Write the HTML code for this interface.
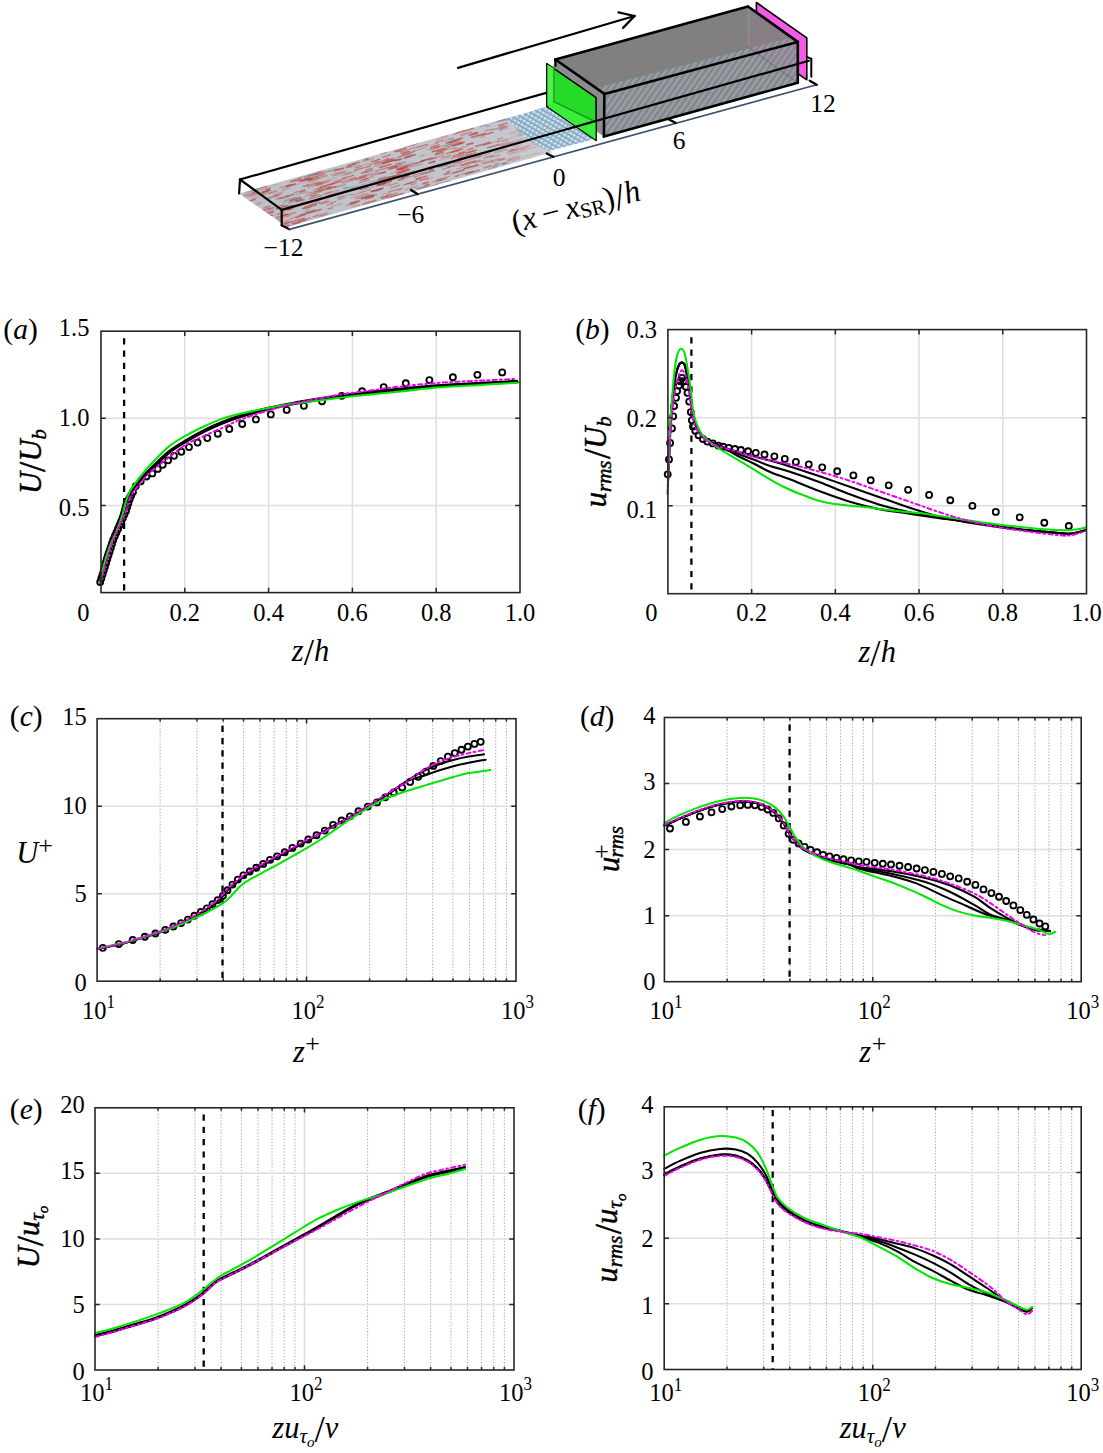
<!DOCTYPE html>
<html><head><meta charset="utf-8"><style>
html,body{margin:0;padding:0;background:#fff;}
svg{display:block;}
text{font-family:"Liberation Serif",serif;fill:#000;}
</style></head><body>
<svg width="1103" height="1453" viewBox="0 0 1103 1453">
<rect width="1103" height="1453" fill="#fff"/>
<defs>
<clipPath id="flc"><polygon points="239.0,193.6 520.0,114.4 552.0,152.3 287.0,227.1" fill="#000" /></clipPath>
<linearGradient id="flg" x1="0" y1="0" x2="1" y2="0"><stop offset="0" stop-color="#bcc1c8"/><stop offset="0.8" stop-color="#c3c7cd"/><stop offset="1" stop-color="#cacdd1"/></linearGradient>
<pattern id="hatchB" patternUnits="userSpaceOnUse" width="5" height="5" patternTransform="rotate(35)"><rect width="5" height="5" fill="#b4cfe0"/><rect width="2" height="5" fill="#eef5fa"/><rect x="2" width="1.2" height="5" fill="#7fa6c0"/></pattern>
<pattern id="hatchG" patternUnits="userSpaceOnUse" width="5" height="5" patternTransform="rotate(35)"><rect width="5" height="5" fill="#8a8e95"/><rect width="1.6" height="5" fill="#9da1a8"/><rect x="3" width="1" height="5" fill="#7c8087"/></pattern>
<filter id="blr" x="-5%" y="-5%" width="110%" height="110%"><feGaussianBlur stdDeviation="0.5"/></filter>
<pattern id="hatchX" patternUnits="userSpaceOnUse" width="4.2" height="4.2" patternTransform="rotate(30)"><rect width="4.2" height="4.2" fill="#98b9cf"/><circle cx="2.1" cy="2.1" r="1.1" fill="#e8f1f7"/><rect width="4.2" height="0.8" fill="#6f96b2"/></pattern>
</defs>
<polygon points="239.0,193.6 520.0,114.4 552.0,152.3 287.0,227.1" fill="url(#flg)" />
<g clip-path="url(#flc)" filter="url(#blr)"><line x1="330.4" y1="174.9" x2="340.6" y2="172.0" stroke="#cc7068" stroke-width="1.5" stroke-opacity="0.29" stroke-linecap="round"/><line x1="499.1" y1="130.3" x2="503.1" y2="129.2" stroke="#b04444" stroke-width="1.3" stroke-opacity="0.29" stroke-linecap="round"/><line x1="471.6" y1="133.8" x2="477.0" y2="132.3" stroke="#b84240" stroke-width="1.3" stroke-opacity="0.58" stroke-linecap="round"/><line x1="510.4" y1="119.3" x2="522.8" y2="115.8" stroke="#b04444" stroke-width="1.5" stroke-opacity="0.19" stroke-linecap="round"/><line x1="421.2" y1="174.3" x2="425.4" y2="173.1" stroke="#b04444" stroke-width="1.5" stroke-opacity="0.56" stroke-linecap="round"/><line x1="252.5" y1="192.6" x2="257.7" y2="191.1" stroke="#a03636" stroke-width="1.4" stroke-opacity="0.62" stroke-linecap="round"/><line x1="509.6" y1="134.3" x2="515.3" y2="132.7" stroke="#b04444" stroke-width="1.2" stroke-opacity="0.16" stroke-linecap="round"/><line x1="387.6" y1="167.8" x2="395.5" y2="165.6" stroke="#b84240" stroke-width="1.3" stroke-opacity="0.58" stroke-linecap="round"/><line x1="453.1" y1="140.4" x2="461.5" y2="138.0" stroke="#b8504a" stroke-width="1.5" stroke-opacity="0.27" stroke-linecap="round"/><line x1="492.1" y1="160.7" x2="498.9" y2="158.8" stroke="#a03636" stroke-width="1.3" stroke-opacity="0.31" stroke-linecap="round"/><line x1="512.2" y1="161.0" x2="520.4" y2="158.6" stroke="#b84240" stroke-width="1.2" stroke-opacity="0.27" stroke-linecap="round"/><line x1="426.2" y1="172.8" x2="434.1" y2="170.6" stroke="#b8504a" stroke-width="1.9" stroke-opacity="0.64" stroke-linecap="round"/><line x1="360.1" y1="188.2" x2="368.5" y2="185.8" stroke="#c45a55" stroke-width="1.1" stroke-opacity="0.37" stroke-linecap="round"/><line x1="381.9" y1="194.3" x2="385.7" y2="193.2" stroke="#cc7068" stroke-width="1.0" stroke-opacity="0.50" stroke-linecap="round"/><line x1="378.6" y1="180.1" x2="389.4" y2="177.1" stroke="#b8504a" stroke-width="1.9" stroke-opacity="0.79" stroke-linecap="round"/><line x1="282.6" y1="189.6" x2="288.2" y2="188.0" stroke="#a03636" stroke-width="1.0" stroke-opacity="0.38" stroke-linecap="round"/><line x1="318.3" y1="178.1" x2="327.2" y2="175.6" stroke="#c45a55" stroke-width="1.6" stroke-opacity="0.59" stroke-linecap="round"/><line x1="405.7" y1="175.6" x2="416.1" y2="172.7" stroke="#b8504a" stroke-width="1.3" stroke-opacity="0.28" stroke-linecap="round"/><line x1="349.6" y1="167.3" x2="359.5" y2="164.5" stroke="#b84240" stroke-width="1.3" stroke-opacity="0.28" stroke-linecap="round"/><line x1="290.1" y1="207.4" x2="294.3" y2="206.3" stroke="#cc7068" stroke-width="1.2" stroke-opacity="0.56" stroke-linecap="round"/><line x1="278.6" y1="223.5" x2="288.3" y2="220.8" stroke="#c45a55" stroke-width="1.5" stroke-opacity="0.33" stroke-linecap="round"/><line x1="371.4" y1="161.7" x2="379.7" y2="159.3" stroke="#a03636" stroke-width="0.9" stroke-opacity="0.79" stroke-linecap="round"/><line x1="276.3" y1="199.2" x2="282.3" y2="197.5" stroke="#b04444" stroke-width="1.0" stroke-opacity="0.71" stroke-linecap="round"/><line x1="517.7" y1="132.0" x2="528.3" y2="129.0" stroke="#cc7068" stroke-width="1.6" stroke-opacity="0.27" stroke-linecap="round"/><line x1="295.8" y1="217.3" x2="304.5" y2="214.9" stroke="#c45a55" stroke-width="1.4" stroke-opacity="0.75" stroke-linecap="round"/><line x1="467.3" y1="144.7" x2="472.8" y2="143.2" stroke="#b04444" stroke-width="1.8" stroke-opacity="0.70" stroke-linecap="round"/><line x1="451.6" y1="144.3" x2="460.3" y2="141.9" stroke="#b84240" stroke-width="1.7" stroke-opacity="0.45" stroke-linecap="round"/><line x1="374.4" y1="164.5" x2="384.0" y2="161.8" stroke="#b8504a" stroke-width="1.9" stroke-opacity="0.44" stroke-linecap="round"/><line x1="345.1" y1="174.0" x2="350.6" y2="172.5" stroke="#b04444" stroke-width="2.0" stroke-opacity="0.36" stroke-linecap="round"/><line x1="404.8" y1="146.9" x2="417.8" y2="143.3" stroke="#b8504a" stroke-width="1.6" stroke-opacity="0.44" stroke-linecap="round"/><line x1="524.7" y1="149.8" x2="535.9" y2="146.6" stroke="#b04444" stroke-width="1.6" stroke-opacity="0.14" stroke-linecap="round"/><line x1="299.1" y1="221.1" x2="310.1" y2="218.0" stroke="#b8504a" stroke-width="1.7" stroke-opacity="0.50" stroke-linecap="round"/><line x1="285.8" y1="186.4" x2="290.5" y2="185.1" stroke="#b8504a" stroke-width="1.8" stroke-opacity="0.75" stroke-linecap="round"/><line x1="539.0" y1="139.9" x2="545.9" y2="138.0" stroke="#5f7da3" stroke-width="1.8" stroke-opacity="0.04" stroke-linecap="round"/><line x1="442.2" y1="141.1" x2="453.4" y2="138.0" stroke="#b04444" stroke-width="1.1" stroke-opacity="0.33" stroke-linecap="round"/><line x1="316.5" y1="185.5" x2="322.1" y2="183.9" stroke="#c45a55" stroke-width="1.8" stroke-opacity="0.57" stroke-linecap="round"/><line x1="282.5" y1="216.1" x2="295.4" y2="212.5" stroke="#cc7068" stroke-width="1.9" stroke-opacity="0.61" stroke-linecap="round"/><line x1="397.9" y1="173.8" x2="406.7" y2="171.3" stroke="#a03636" stroke-width="1.5" stroke-opacity="0.26" stroke-linecap="round"/><line x1="458.4" y1="138.8" x2="462.9" y2="137.5" stroke="#b84240" stroke-width="1.2" stroke-opacity="0.59" stroke-linecap="round"/><line x1="403.7" y1="173.3" x2="415.3" y2="170.0" stroke="#5f7da3" stroke-width="1.0" stroke-opacity="0.25" stroke-linecap="round"/><line x1="248.3" y1="195.6" x2="256.3" y2="193.3" stroke="#b84240" stroke-width="1.5" stroke-opacity="0.27" stroke-linecap="round"/><line x1="398.1" y1="172.8" x2="408.7" y2="169.8" stroke="#cc7068" stroke-width="1.4" stroke-opacity="0.50" stroke-linecap="round"/><line x1="325.6" y1="193.8" x2="338.3" y2="190.2" stroke="#cc7068" stroke-width="1.0" stroke-opacity="0.76" stroke-linecap="round"/><line x1="377.4" y1="174.2" x2="384.7" y2="172.1" stroke="#b8504a" stroke-width="0.9" stroke-opacity="0.42" stroke-linecap="round"/><line x1="456.7" y1="169.1" x2="469.6" y2="165.4" stroke="#b8504a" stroke-width="1.2" stroke-opacity="0.33" stroke-linecap="round"/><line x1="309.8" y1="180.1" x2="318.0" y2="177.8" stroke="#b84240" stroke-width="1.4" stroke-opacity="0.66" stroke-linecap="round"/><line x1="549.6" y1="145.1" x2="554.4" y2="143.8" stroke="#cc7068" stroke-width="1.3" stroke-opacity="0.00" stroke-linecap="round"/><line x1="337.1" y1="170.3" x2="344.1" y2="168.3" stroke="#a03636" stroke-width="0.8" stroke-opacity="0.44" stroke-linecap="round"/><line x1="353.9" y1="190.5" x2="362.5" y2="188.1" stroke="#b04444" stroke-width="0.9" stroke-opacity="0.29" stroke-linecap="round"/><line x1="308.9" y1="175.7" x2="320.5" y2="172.5" stroke="#b04444" stroke-width="1.8" stroke-opacity="0.40" stroke-linecap="round"/><line x1="465.9" y1="174.1" x2="473.3" y2="172.0" stroke="#cc7068" stroke-width="1.6" stroke-opacity="0.55" stroke-linecap="round"/><line x1="259.9" y1="190.4" x2="270.5" y2="187.4" stroke="#b84240" stroke-width="0.8" stroke-opacity="0.48" stroke-linecap="round"/><line x1="268.8" y1="197.4" x2="278.5" y2="194.7" stroke="#c45a55" stroke-width="1.3" stroke-opacity="0.37" stroke-linecap="round"/><line x1="352.9" y1="187.5" x2="366.1" y2="183.8" stroke="#5f7da3" stroke-width="1.7" stroke-opacity="0.32" stroke-linecap="round"/><line x1="541.1" y1="154.0" x2="547.0" y2="152.3" stroke="#c45a55" stroke-width="1.4" stroke-opacity="0.02" stroke-linecap="round"/><line x1="310.3" y1="194.4" x2="320.7" y2="191.5" stroke="#b84240" stroke-width="0.8" stroke-opacity="0.40" stroke-linecap="round"/><line x1="260.0" y1="211.5" x2="273.7" y2="207.6" stroke="#b04444" stroke-width="0.9" stroke-opacity="0.53" stroke-linecap="round"/><line x1="483.2" y1="145.1" x2="491.6" y2="142.7" stroke="#a03636" stroke-width="1.2" stroke-opacity="0.58" stroke-linecap="round"/><line x1="303.2" y1="186.3" x2="308.4" y2="184.8" stroke="#b8504a" stroke-width="1.3" stroke-opacity="0.74" stroke-linecap="round"/><line x1="332.8" y1="169.7" x2="337.2" y2="168.5" stroke="#b8504a" stroke-width="1.3" stroke-opacity="0.29" stroke-linecap="round"/><line x1="277.6" y1="214.0" x2="284.8" y2="212.0" stroke="#c45a55" stroke-width="1.6" stroke-opacity="0.53" stroke-linecap="round"/><line x1="253.1" y1="198.3" x2="259.1" y2="196.6" stroke="#c45a55" stroke-width="2.0" stroke-opacity="0.25" stroke-linecap="round"/><line x1="397.8" y1="160.3" x2="411.4" y2="156.5" stroke="#c45a55" stroke-width="1.2" stroke-opacity="0.42" stroke-linecap="round"/><line x1="268.3" y1="198.5" x2="278.5" y2="195.6" stroke="#b84240" stroke-width="1.8" stroke-opacity="0.39" stroke-linecap="round"/><line x1="299.1" y1="204.2" x2="306.5" y2="202.2" stroke="#b8504a" stroke-width="1.5" stroke-opacity="0.41" stroke-linecap="round"/><line x1="415.5" y1="179.1" x2="425.8" y2="176.2" stroke="#cc7068" stroke-width="1.2" stroke-opacity="0.64" stroke-linecap="round"/><line x1="517.4" y1="122.1" x2="528.4" y2="119.0" stroke="#b84240" stroke-width="1.7" stroke-opacity="0.22" stroke-linecap="round"/><line x1="396.5" y1="169.4" x2="407.2" y2="166.3" stroke="#cc7068" stroke-width="1.5" stroke-opacity="0.53" stroke-linecap="round"/><line x1="462.8" y1="131.3" x2="473.3" y2="128.3" stroke="#b8504a" stroke-width="1.6" stroke-opacity="0.69" stroke-linecap="round"/><line x1="298.5" y1="178.3" x2="302.9" y2="177.0" stroke="#b84240" stroke-width="1.3" stroke-opacity="0.45" stroke-linecap="round"/><line x1="247.2" y1="192.2" x2="256.1" y2="189.7" stroke="#5f7da3" stroke-width="1.8" stroke-opacity="0.31" stroke-linecap="round"/><line x1="466.4" y1="153.1" x2="475.3" y2="150.6" stroke="#b84240" stroke-width="1.4" stroke-opacity="0.61" stroke-linecap="round"/><line x1="499.1" y1="160.0" x2="504.7" y2="158.5" stroke="#b04444" stroke-width="2.0" stroke-opacity="0.41" stroke-linecap="round"/><line x1="389.0" y1="169.3" x2="397.3" y2="167.0" stroke="#b84240" stroke-width="1.6" stroke-opacity="0.63" stroke-linecap="round"/><line x1="260.6" y1="194.5" x2="266.4" y2="192.8" stroke="#c45a55" stroke-width="1.0" stroke-opacity="0.66" stroke-linecap="round"/><line x1="390.4" y1="173.7" x2="404.1" y2="169.9" stroke="#b04444" stroke-width="1.1" stroke-opacity="0.30" stroke-linecap="round"/><line x1="399.1" y1="170.3" x2="407.2" y2="168.0" stroke="#cc7068" stroke-width="2.0" stroke-opacity="0.32" stroke-linecap="round"/><line x1="497.7" y1="121.5" x2="505.8" y2="119.2" stroke="#a03636" stroke-width="1.3" stroke-opacity="0.44" stroke-linecap="round"/><line x1="533.3" y1="154.4" x2="537.1" y2="153.3" stroke="#b8504a" stroke-width="1.9" stroke-opacity="0.05" stroke-linecap="round"/><line x1="306.4" y1="213.1" x2="315.0" y2="210.7" stroke="#b8504a" stroke-width="1.4" stroke-opacity="0.74" stroke-linecap="round"/><line x1="497.7" y1="139.2" x2="502.4" y2="137.8" stroke="#b8504a" stroke-width="1.2" stroke-opacity="0.49" stroke-linecap="round"/><line x1="287.3" y1="196.2" x2="293.8" y2="194.3" stroke="#b84240" stroke-width="1.2" stroke-opacity="0.71" stroke-linecap="round"/><line x1="387.0" y1="196.0" x2="392.2" y2="194.6" stroke="#b8504a" stroke-width="1.2" stroke-opacity="0.26" stroke-linecap="round"/><line x1="388.1" y1="198.5" x2="397.6" y2="195.8" stroke="#a03636" stroke-width="1.8" stroke-opacity="0.45" stroke-linecap="round"/><line x1="313.7" y1="174.9" x2="324.0" y2="172.0" stroke="#b04444" stroke-width="1.1" stroke-opacity="0.60" stroke-linecap="round"/><line x1="385.1" y1="161.3" x2="392.3" y2="159.3" stroke="#b84240" stroke-width="1.6" stroke-opacity="0.78" stroke-linecap="round"/><line x1="532.8" y1="155.0" x2="541.9" y2="152.4" stroke="#b84240" stroke-width="1.3" stroke-opacity="0.10" stroke-linecap="round"/><line x1="412.3" y1="151.3" x2="424.8" y2="147.7" stroke="#cc7068" stroke-width="1.4" stroke-opacity="0.52" stroke-linecap="round"/><line x1="342.7" y1="178.4" x2="353.8" y2="175.2" stroke="#c45a55" stroke-width="1.1" stroke-opacity="0.79" stroke-linecap="round"/><line x1="398.8" y1="180.0" x2="403.2" y2="178.8" stroke="#b84240" stroke-width="1.9" stroke-opacity="0.60" stroke-linecap="round"/><line x1="382.6" y1="163.5" x2="395.5" y2="159.8" stroke="#a03636" stroke-width="1.5" stroke-opacity="0.80" stroke-linecap="round"/><line x1="308.9" y1="182.1" x2="318.1" y2="179.5" stroke="#c45a55" stroke-width="1.5" stroke-opacity="0.43" stroke-linecap="round"/><line x1="516.8" y1="150.5" x2="524.4" y2="148.4" stroke="#cc7068" stroke-width="1.1" stroke-opacity="0.18" stroke-linecap="round"/><line x1="467.3" y1="152.6" x2="476.6" y2="150.0" stroke="#b8504a" stroke-width="1.6" stroke-opacity="0.45" stroke-linecap="round"/><line x1="485.9" y1="134.1" x2="491.9" y2="132.4" stroke="#a03636" stroke-width="1.3" stroke-opacity="0.30" stroke-linecap="round"/><line x1="356.9" y1="198.6" x2="370.6" y2="194.8" stroke="#a03636" stroke-width="1.9" stroke-opacity="0.32" stroke-linecap="round"/><line x1="392.4" y1="178.0" x2="395.4" y2="177.1" stroke="#cc7068" stroke-width="2.0" stroke-opacity="0.47" stroke-linecap="round"/><line x1="307.2" y1="179.5" x2="311.9" y2="178.2" stroke="#b8504a" stroke-width="1.8" stroke-opacity="0.54" stroke-linecap="round"/><line x1="468.5" y1="168.7" x2="481.3" y2="165.1" stroke="#5f7da3" stroke-width="1.0" stroke-opacity="0.24" stroke-linecap="round"/><line x1="394.8" y1="151.4" x2="405.7" y2="148.4" stroke="#b8504a" stroke-width="1.6" stroke-opacity="0.78" stroke-linecap="round"/><line x1="434.7" y1="143.7" x2="438.5" y2="142.6" stroke="#cc7068" stroke-width="1.1" stroke-opacity="0.54" stroke-linecap="round"/><line x1="455.8" y1="132.5" x2="464.7" y2="130.0" stroke="#c45a55" stroke-width="1.6" stroke-opacity="0.80" stroke-linecap="round"/><line x1="503.5" y1="141.4" x2="509.1" y2="139.8" stroke="#a03636" stroke-width="1.2" stroke-opacity="0.21" stroke-linecap="round"/><line x1="260.6" y1="210.9" x2="271.0" y2="208.0" stroke="#c45a55" stroke-width="1.3" stroke-opacity="0.48" stroke-linecap="round"/><line x1="359.0" y1="182.9" x2="369.6" y2="179.9" stroke="#c45a55" stroke-width="1.0" stroke-opacity="0.65" stroke-linecap="round"/><line x1="490.8" y1="157.3" x2="499.4" y2="154.9" stroke="#b04444" stroke-width="1.8" stroke-opacity="0.26" stroke-linecap="round"/><line x1="307.3" y1="184.8" x2="318.6" y2="181.5" stroke="#cc7068" stroke-width="1.0" stroke-opacity="0.41" stroke-linecap="round"/><line x1="314.0" y1="192.1" x2="324.3" y2="189.2" stroke="#b04444" stroke-width="0.9" stroke-opacity="0.77" stroke-linecap="round"/><line x1="265.5" y1="214.1" x2="273.1" y2="212.0" stroke="#b04444" stroke-width="1.9" stroke-opacity="0.64" stroke-linecap="round"/><line x1="515.0" y1="150.2" x2="529.0" y2="146.3" stroke="#c45a55" stroke-width="1.6" stroke-opacity="0.30" stroke-linecap="round"/><line x1="401.6" y1="169.7" x2="408.0" y2="167.9" stroke="#c45a55" stroke-width="1.3" stroke-opacity="0.65" stroke-linecap="round"/><line x1="266.4" y1="189.6" x2="270.2" y2="188.5" stroke="#b84240" stroke-width="1.7" stroke-opacity="0.48" stroke-linecap="round"/><line x1="374.2" y1="191.6" x2="380.6" y2="189.8" stroke="#5f7da3" stroke-width="1.4" stroke-opacity="0.55" stroke-linecap="round"/><line x1="378.9" y1="197.4" x2="384.0" y2="195.9" stroke="#5f7da3" stroke-width="1.3" stroke-opacity="0.36" stroke-linecap="round"/><line x1="496.2" y1="157.1" x2="499.7" y2="156.1" stroke="#b84240" stroke-width="0.9" stroke-opacity="0.17" stroke-linecap="round"/><line x1="290.0" y1="182.2" x2="299.7" y2="179.4" stroke="#c45a55" stroke-width="1.5" stroke-opacity="0.45" stroke-linecap="round"/><line x1="338.4" y1="199.2" x2="344.9" y2="197.4" stroke="#b84240" stroke-width="1.5" stroke-opacity="0.40" stroke-linecap="round"/><line x1="502.6" y1="163.8" x2="506.3" y2="162.7" stroke="#b84240" stroke-width="1.9" stroke-opacity="0.40" stroke-linecap="round"/><line x1="519.3" y1="132.7" x2="525.1" y2="131.1" stroke="#a03636" stroke-width="1.4" stroke-opacity="0.17" stroke-linecap="round"/><line x1="276.4" y1="226.8" x2="282.7" y2="225.0" stroke="#b04444" stroke-width="1.2" stroke-opacity="0.63" stroke-linecap="round"/><line x1="338.7" y1="182.5" x2="350.3" y2="179.2" stroke="#b04444" stroke-width="1.0" stroke-opacity="0.29" stroke-linecap="round"/><line x1="376.6" y1="185.3" x2="384.9" y2="183.0" stroke="#b04444" stroke-width="1.9" stroke-opacity="0.55" stroke-linecap="round"/><line x1="523.5" y1="125.8" x2="527.4" y2="124.7" stroke="#a03636" stroke-width="2.0" stroke-opacity="0.09" stroke-linecap="round"/><line x1="287.0" y1="186.3" x2="295.1" y2="184.0" stroke="#b04444" stroke-width="1.8" stroke-opacity="0.74" stroke-linecap="round"/><line x1="425.5" y1="146.7" x2="437.7" y2="143.3" stroke="#cc7068" stroke-width="1.1" stroke-opacity="0.41" stroke-linecap="round"/><line x1="325.4" y1="189.9" x2="330.5" y2="188.5" stroke="#c45a55" stroke-width="1.5" stroke-opacity="0.38" stroke-linecap="round"/><line x1="342.2" y1="183.1" x2="356.1" y2="179.2" stroke="#b04444" stroke-width="0.9" stroke-opacity="0.53" stroke-linecap="round"/><line x1="365.0" y1="159.8" x2="368.0" y2="159.0" stroke="#b04444" stroke-width="1.9" stroke-opacity="0.74" stroke-linecap="round"/><line x1="256.6" y1="202.4" x2="260.9" y2="201.2" stroke="#cc7068" stroke-width="0.9" stroke-opacity="0.35" stroke-linecap="round"/><line x1="385.1" y1="160.8" x2="394.7" y2="158.0" stroke="#b8504a" stroke-width="0.9" stroke-opacity="0.68" stroke-linecap="round"/><line x1="428.6" y1="169.3" x2="434.0" y2="167.8" stroke="#5f7da3" stroke-width="2.0" stroke-opacity="0.36" stroke-linecap="round"/><line x1="275.8" y1="217.7" x2="288.8" y2="214.0" stroke="#c45a55" stroke-width="1.2" stroke-opacity="0.70" stroke-linecap="round"/><line x1="411.3" y1="148.7" x2="414.6" y2="147.7" stroke="#a03636" stroke-width="0.9" stroke-opacity="0.52" stroke-linecap="round"/><line x1="368.6" y1="182.9" x2="378.7" y2="180.1" stroke="#b04444" stroke-width="1.1" stroke-opacity="0.30" stroke-linecap="round"/><line x1="541.7" y1="139.6" x2="549.3" y2="137.5" stroke="#b8504a" stroke-width="1.2" stroke-opacity="0.01" stroke-linecap="round"/><line x1="388.7" y1="192.0" x2="402.7" y2="188.1" stroke="#b04444" stroke-width="1.3" stroke-opacity="0.45" stroke-linecap="round"/><line x1="518.1" y1="135.3" x2="522.8" y2="134.0" stroke="#b84240" stroke-width="1.9" stroke-opacity="0.11" stroke-linecap="round"/><line x1="369.8" y1="164.4" x2="372.9" y2="163.5" stroke="#b8504a" stroke-width="1.3" stroke-opacity="0.55" stroke-linecap="round"/><line x1="435.8" y1="181.7" x2="447.0" y2="178.5" stroke="#c45a55" stroke-width="1.4" stroke-opacity="0.34" stroke-linecap="round"/><line x1="498.8" y1="125.4" x2="507.2" y2="123.1" stroke="#b04444" stroke-width="1.8" stroke-opacity="0.43" stroke-linecap="round"/><line x1="285.4" y1="223.4" x2="291.8" y2="221.6" stroke="#b8504a" stroke-width="1.9" stroke-opacity="0.58" stroke-linecap="round"/><line x1="444.7" y1="174.4" x2="449.4" y2="173.0" stroke="#b04444" stroke-width="1.5" stroke-opacity="0.68" stroke-linecap="round"/><line x1="308.8" y1="196.2" x2="318.0" y2="193.6" stroke="#cc7068" stroke-width="1.2" stroke-opacity="0.27" stroke-linecap="round"/><line x1="318.0" y1="217.0" x2="330.0" y2="213.6" stroke="#cc7068" stroke-width="1.6" stroke-opacity="0.36" stroke-linecap="round"/><line x1="435.6" y1="153.4" x2="442.9" y2="151.3" stroke="#b8504a" stroke-width="1.6" stroke-opacity="0.50" stroke-linecap="round"/><line x1="330.4" y1="179.5" x2="337.7" y2="177.5" stroke="#cc7068" stroke-width="0.8" stroke-opacity="0.45" stroke-linecap="round"/><line x1="429.2" y1="163.0" x2="434.8" y2="161.4" stroke="#a03636" stroke-width="1.8" stroke-opacity="0.67" stroke-linecap="round"/><line x1="348.3" y1="165.9" x2="355.3" y2="164.0" stroke="#a03636" stroke-width="1.6" stroke-opacity="0.45" stroke-linecap="round"/><line x1="249.4" y1="196.8" x2="262.5" y2="193.1" stroke="#b8504a" stroke-width="0.9" stroke-opacity="0.42" stroke-linecap="round"/><line x1="391.6" y1="168.3" x2="405.1" y2="164.5" stroke="#b84240" stroke-width="1.7" stroke-opacity="0.32" stroke-linecap="round"/><line x1="471.4" y1="137.2" x2="485.2" y2="133.3" stroke="#b04444" stroke-width="1.7" stroke-opacity="0.51" stroke-linecap="round"/><line x1="332.1" y1="206.5" x2="341.8" y2="203.8" stroke="#c45a55" stroke-width="1.1" stroke-opacity="0.39" stroke-linecap="round"/><line x1="469.3" y1="135.4" x2="477.8" y2="133.0" stroke="#b04444" stroke-width="1.5" stroke-opacity="0.76" stroke-linecap="round"/><line x1="315.9" y1="189.4" x2="321.1" y2="187.9" stroke="#b8504a" stroke-width="1.6" stroke-opacity="0.47" stroke-linecap="round"/><line x1="493.0" y1="129.9" x2="504.6" y2="126.6" stroke="#5f7da3" stroke-width="1.8" stroke-opacity="0.17" stroke-linecap="round"/><line x1="525.8" y1="134.0" x2="534.5" y2="131.6" stroke="#b84240" stroke-width="1.4" stroke-opacity="0.16" stroke-linecap="round"/><line x1="507.6" y1="152.5" x2="514.7" y2="150.5" stroke="#c45a55" stroke-width="1.2" stroke-opacity="0.23" stroke-linecap="round"/><line x1="468.3" y1="149.7" x2="473.2" y2="148.3" stroke="#b84240" stroke-width="1.4" stroke-opacity="0.66" stroke-linecap="round"/><line x1="363.2" y1="204.0" x2="375.8" y2="200.4" stroke="#c45a55" stroke-width="1.7" stroke-opacity="0.76" stroke-linecap="round"/><line x1="307.8" y1="187.9" x2="317.7" y2="185.1" stroke="#c45a55" stroke-width="1.0" stroke-opacity="0.48" stroke-linecap="round"/><line x1="325.7" y1="199.9" x2="328.9" y2="198.9" stroke="#c45a55" stroke-width="1.4" stroke-opacity="0.25" stroke-linecap="round"/><line x1="401.7" y1="167.1" x2="408.1" y2="165.4" stroke="#c45a55" stroke-width="1.4" stroke-opacity="0.32" stroke-linecap="round"/><line x1="312.3" y1="217.0" x2="318.0" y2="215.4" stroke="#b84240" stroke-width="1.0" stroke-opacity="0.33" stroke-linecap="round"/><line x1="432.5" y1="151.7" x2="444.4" y2="148.4" stroke="#b84240" stroke-width="1.5" stroke-opacity="0.78" stroke-linecap="round"/><line x1="360.2" y1="189.8" x2="368.1" y2="187.6" stroke="#b8504a" stroke-width="1.0" stroke-opacity="0.77" stroke-linecap="round"/><line x1="234.9" y1="197.7" x2="238.2" y2="196.7" stroke="#5f7da3" stroke-width="1.7" stroke-opacity="0.28" stroke-linecap="round"/><line x1="260.3" y1="213.5" x2="273.6" y2="209.7" stroke="#b04444" stroke-width="1.6" stroke-opacity="0.33" stroke-linecap="round"/><line x1="434.0" y1="158.1" x2="443.7" y2="155.4" stroke="#b84240" stroke-width="0.9" stroke-opacity="0.53" stroke-linecap="round"/><line x1="518.9" y1="151.5" x2="529.8" y2="148.4" stroke="#a03636" stroke-width="1.4" stroke-opacity="0.09" stroke-linecap="round"/><line x1="462.3" y1="151.9" x2="467.8" y2="150.4" stroke="#b04444" stroke-width="0.9" stroke-opacity="0.31" stroke-linecap="round"/><line x1="525.9" y1="156.2" x2="539.2" y2="152.4" stroke="#b84240" stroke-width="1.5" stroke-opacity="0.10" stroke-linecap="round"/><line x1="390.9" y1="187.8" x2="399.6" y2="185.4" stroke="#b8504a" stroke-width="1.9" stroke-opacity="0.40" stroke-linecap="round"/><line x1="279.0" y1="206.2" x2="283.9" y2="204.8" stroke="#b8504a" stroke-width="1.0" stroke-opacity="0.75" stroke-linecap="round"/><line x1="499.6" y1="129.1" x2="506.8" y2="127.1" stroke="#a03636" stroke-width="1.6" stroke-opacity="0.35" stroke-linecap="round"/><line x1="458.0" y1="163.1" x2="471.8" y2="159.2" stroke="#cc7068" stroke-width="1.8" stroke-opacity="0.51" stroke-linecap="round"/><line x1="388.3" y1="185.6" x2="397.6" y2="182.9" stroke="#b04444" stroke-width="1.5" stroke-opacity="0.42" stroke-linecap="round"/><line x1="399.7" y1="156.4" x2="403.0" y2="155.4" stroke="#cc7068" stroke-width="1.2" stroke-opacity="0.31" stroke-linecap="round"/><line x1="273.4" y1="185.2" x2="276.9" y2="184.3" stroke="#5f7da3" stroke-width="0.9" stroke-opacity="0.50" stroke-linecap="round"/><line x1="283.8" y1="221.2" x2="295.1" y2="218.0" stroke="#cc7068" stroke-width="0.9" stroke-opacity="0.36" stroke-linecap="round"/><line x1="518.7" y1="157.7" x2="532.1" y2="153.9" stroke="#b04444" stroke-width="0.8" stroke-opacity="0.11" stroke-linecap="round"/><line x1="541.6" y1="151.1" x2="552.9" y2="147.9" stroke="#b8504a" stroke-width="1.4" stroke-opacity="0.01" stroke-linecap="round"/><line x1="305.2" y1="212.2" x2="315.3" y2="209.3" stroke="#c45a55" stroke-width="0.8" stroke-opacity="0.41" stroke-linecap="round"/><line x1="317.4" y1="184.8" x2="328.2" y2="181.7" stroke="#c45a55" stroke-width="1.5" stroke-opacity="0.45" stroke-linecap="round"/><line x1="379.7" y1="167.5" x2="390.9" y2="164.3" stroke="#b84240" stroke-width="1.7" stroke-opacity="0.68" stroke-linecap="round"/><line x1="361.8" y1="192.1" x2="370.8" y2="189.6" stroke="#b84240" stroke-width="1.1" stroke-opacity="0.37" stroke-linecap="round"/><line x1="379.0" y1="178.7" x2="385.1" y2="177.0" stroke="#5f7da3" stroke-width="1.4" stroke-opacity="0.53" stroke-linecap="round"/><line x1="406.9" y1="183.7" x2="412.0" y2="182.3" stroke="#c45a55" stroke-width="1.4" stroke-opacity="0.52" stroke-linecap="round"/><line x1="402.7" y1="154.9" x2="414.7" y2="151.5" stroke="#b04444" stroke-width="0.9" stroke-opacity="0.77" stroke-linecap="round"/><line x1="415.8" y1="147.6" x2="427.4" y2="144.3" stroke="#b84240" stroke-width="1.2" stroke-opacity="0.63" stroke-linecap="round"/><line x1="363.3" y1="177.1" x2="376.1" y2="173.5" stroke="#5f7da3" stroke-width="1.0" stroke-opacity="0.24" stroke-linecap="round"/><line x1="347.0" y1="205.5" x2="355.6" y2="203.1" stroke="#b8504a" stroke-width="1.4" stroke-opacity="0.46" stroke-linecap="round"/><line x1="416.4" y1="179.0" x2="427.7" y2="175.9" stroke="#c45a55" stroke-width="1.4" stroke-opacity="0.61" stroke-linecap="round"/><line x1="497.9" y1="141.8" x2="507.0" y2="139.2" stroke="#a03636" stroke-width="1.7" stroke-opacity="0.27" stroke-linecap="round"/><line x1="401.6" y1="153.7" x2="409.7" y2="151.4" stroke="#b04444" stroke-width="1.1" stroke-opacity="0.74" stroke-linecap="round"/><line x1="482.8" y1="163.7" x2="492.6" y2="160.9" stroke="#b04444" stroke-width="1.5" stroke-opacity="0.54" stroke-linecap="round"/><line x1="341.3" y1="175.9" x2="354.8" y2="172.0" stroke="#b8504a" stroke-width="1.0" stroke-opacity="0.39" stroke-linecap="round"/><line x1="427.0" y1="149.8" x2="431.6" y2="148.5" stroke="#c45a55" stroke-width="1.3" stroke-opacity="0.33" stroke-linecap="round"/><line x1="316.2" y1="201.8" x2="320.4" y2="200.6" stroke="#a03636" stroke-width="0.8" stroke-opacity="0.36" stroke-linecap="round"/><line x1="493.4" y1="142.4" x2="498.9" y2="140.8" stroke="#c45a55" stroke-width="1.0" stroke-opacity="0.54" stroke-linecap="round"/><line x1="421.1" y1="161.3" x2="432.2" y2="158.1" stroke="#a03636" stroke-width="1.5" stroke-opacity="0.75" stroke-linecap="round"/><line x1="453.2" y1="173.0" x2="463.6" y2="170.0" stroke="#b8504a" stroke-width="1.8" stroke-opacity="0.61" stroke-linecap="round"/><line x1="453.2" y1="163.4" x2="461.2" y2="161.1" stroke="#b8504a" stroke-width="1.9" stroke-opacity="0.42" stroke-linecap="round"/><line x1="318.6" y1="190.0" x2="329.4" y2="186.9" stroke="#a03636" stroke-width="0.8" stroke-opacity="0.34" stroke-linecap="round"/><line x1="498.3" y1="144.8" x2="508.6" y2="141.9" stroke="#b8504a" stroke-width="0.8" stroke-opacity="0.45" stroke-linecap="round"/><line x1="508.3" y1="160.4" x2="512.5" y2="159.2" stroke="#b04444" stroke-width="1.7" stroke-opacity="0.19" stroke-linecap="round"/><line x1="521.6" y1="138.3" x2="525.7" y2="137.2" stroke="#cc7068" stroke-width="1.4" stroke-opacity="0.18" stroke-linecap="round"/><line x1="272.2" y1="221.5" x2="279.3" y2="219.5" stroke="#b8504a" stroke-width="1.1" stroke-opacity="0.44" stroke-linecap="round"/><line x1="443.3" y1="154.4" x2="454.7" y2="151.2" stroke="#cc7068" stroke-width="0.9" stroke-opacity="0.32" stroke-linecap="round"/><line x1="327.6" y1="187.4" x2="330.8" y2="186.5" stroke="#a03636" stroke-width="1.6" stroke-opacity="0.48" stroke-linecap="round"/><line x1="401.1" y1="153.0" x2="407.4" y2="151.2" stroke="#cc7068" stroke-width="2.0" stroke-opacity="0.47" stroke-linecap="round"/><line x1="524.7" y1="134.8" x2="529.5" y2="133.4" stroke="#b84240" stroke-width="1.6" stroke-opacity="0.21" stroke-linecap="round"/><line x1="390.1" y1="177.4" x2="395.6" y2="175.9" stroke="#c45a55" stroke-width="1.8" stroke-opacity="0.78" stroke-linecap="round"/><line x1="475.7" y1="146.3" x2="489.6" y2="142.4" stroke="#b8504a" stroke-width="1.8" stroke-opacity="0.62" stroke-linecap="round"/><line x1="370.7" y1="196.5" x2="376.6" y2="194.8" stroke="#c45a55" stroke-width="1.6" stroke-opacity="0.46" stroke-linecap="round"/><line x1="404.5" y1="184.8" x2="416.3" y2="181.5" stroke="#b8504a" stroke-width="1.4" stroke-opacity="0.45" stroke-linecap="round"/><line x1="381.9" y1="183.3" x2="392.2" y2="180.4" stroke="#c45a55" stroke-width="0.9" stroke-opacity="0.45" stroke-linecap="round"/><line x1="507.1" y1="160.6" x2="518.7" y2="157.3" stroke="#c45a55" stroke-width="0.8" stroke-opacity="0.17" stroke-linecap="round"/><line x1="278.1" y1="227.3" x2="288.3" y2="224.4" stroke="#b84240" stroke-width="1.8" stroke-opacity="0.39" stroke-linecap="round"/><line x1="304.9" y1="196.3" x2="316.5" y2="193.0" stroke="#a03636" stroke-width="1.0" stroke-opacity="0.36" stroke-linecap="round"/><line x1="511.6" y1="145.3" x2="523.2" y2="142.1" stroke="#cc7068" stroke-width="1.8" stroke-opacity="0.28" stroke-linecap="round"/><line x1="319.0" y1="203.6" x2="327.9" y2="201.1" stroke="#a03636" stroke-width="0.9" stroke-opacity="0.66" stroke-linecap="round"/><line x1="284.4" y1="200.5" x2="296.5" y2="197.1" stroke="#5f7da3" stroke-width="1.4" stroke-opacity="0.41" stroke-linecap="round"/><line x1="295.0" y1="200.9" x2="303.5" y2="198.5" stroke="#5f7da3" stroke-width="1.8" stroke-opacity="0.44" stroke-linecap="round"/><line x1="389.7" y1="177.5" x2="400.1" y2="174.6" stroke="#c45a55" stroke-width="2.0" stroke-opacity="0.71" stroke-linecap="round"/><line x1="431.4" y1="147.8" x2="438.4" y2="145.9" stroke="#b84240" stroke-width="1.6" stroke-opacity="0.61" stroke-linecap="round"/><line x1="510.5" y1="132.6" x2="524.3" y2="128.7" stroke="#a03636" stroke-width="1.0" stroke-opacity="0.24" stroke-linecap="round"/><line x1="311.1" y1="192.8" x2="315.5" y2="191.6" stroke="#b8504a" stroke-width="1.4" stroke-opacity="0.30" stroke-linecap="round"/><line x1="415.4" y1="180.1" x2="420.7" y2="178.6" stroke="#a03636" stroke-width="0.9" stroke-opacity="0.49" stroke-linecap="round"/><line x1="329.8" y1="184.7" x2="338.2" y2="182.3" stroke="#c45a55" stroke-width="1.2" stroke-opacity="0.43" stroke-linecap="round"/><line x1="311.7" y1="196.2" x2="316.0" y2="195.0" stroke="#b8504a" stroke-width="1.5" stroke-opacity="0.36" stroke-linecap="round"/><line x1="446.9" y1="171.8" x2="450.4" y2="170.9" stroke="#a03636" stroke-width="0.9" stroke-opacity="0.65" stroke-linecap="round"/><line x1="317.3" y1="171.8" x2="322.4" y2="170.4" stroke="#cc7068" stroke-width="0.9" stroke-opacity="0.76" stroke-linecap="round"/><line x1="398.2" y1="174.3" x2="405.3" y2="172.3" stroke="#b8504a" stroke-width="1.5" stroke-opacity="0.33" stroke-linecap="round"/><line x1="434.3" y1="148.5" x2="444.6" y2="145.6" stroke="#b04444" stroke-width="1.0" stroke-opacity="0.50" stroke-linecap="round"/><line x1="277.3" y1="219.2" x2="290.4" y2="215.5" stroke="#c45a55" stroke-width="1.0" stroke-opacity="0.61" stroke-linecap="round"/><line x1="351.5" y1="195.3" x2="364.0" y2="191.7" stroke="#b84240" stroke-width="1.3" stroke-opacity="0.35" stroke-linecap="round"/><line x1="455.6" y1="176.4" x2="459.2" y2="175.4" stroke="#b84240" stroke-width="1.7" stroke-opacity="0.56" stroke-linecap="round"/><line x1="382.5" y1="185.8" x2="389.9" y2="183.7" stroke="#b8504a" stroke-width="1.5" stroke-opacity="0.29" stroke-linecap="round"/><line x1="541.5" y1="154.4" x2="549.7" y2="152.1" stroke="#b84240" stroke-width="1.4" stroke-opacity="0.02" stroke-linecap="round"/><line x1="513.7" y1="145.6" x2="521.4" y2="143.4" stroke="#b8504a" stroke-width="2.0" stroke-opacity="0.11" stroke-linecap="round"/><line x1="296.1" y1="218.4" x2="300.5" y2="217.1" stroke="#b8504a" stroke-width="1.3" stroke-opacity="0.26" stroke-linecap="round"/><line x1="484.1" y1="167.9" x2="491.2" y2="165.9" stroke="#b8504a" stroke-width="1.7" stroke-opacity="0.54" stroke-linecap="round"/><line x1="284.1" y1="210.4" x2="294.9" y2="207.4" stroke="#c45a55" stroke-width="0.9" stroke-opacity="0.50" stroke-linecap="round"/><line x1="243.8" y1="195.1" x2="256.5" y2="191.5" stroke="#cc7068" stroke-width="1.2" stroke-opacity="0.63" stroke-linecap="round"/><line x1="445.9" y1="143.1" x2="458.4" y2="139.5" stroke="#b84240" stroke-width="1.9" stroke-opacity="0.52" stroke-linecap="round"/><line x1="459.1" y1="153.6" x2="463.9" y2="152.3" stroke="#b84240" stroke-width="1.6" stroke-opacity="0.78" stroke-linecap="round"/><line x1="429.0" y1="159.7" x2="436.3" y2="157.6" stroke="#c45a55" stroke-width="1.5" stroke-opacity="0.68" stroke-linecap="round"/><line x1="317.5" y1="174.3" x2="331.2" y2="170.5" stroke="#cc7068" stroke-width="1.5" stroke-opacity="0.64" stroke-linecap="round"/><line x1="546.0" y1="146.1" x2="555.6" y2="143.4" stroke="#a03636" stroke-width="1.1" stroke-opacity="0.00" stroke-linecap="round"/><line x1="358.6" y1="177.6" x2="370.0" y2="174.3" stroke="#a03636" stroke-width="0.8" stroke-opacity="0.38" stroke-linecap="round"/><line x1="325.5" y1="189.1" x2="334.9" y2="186.4" stroke="#b84240" stroke-width="1.0" stroke-opacity="0.70" stroke-linecap="round"/><line x1="528.7" y1="158.6" x2="533.3" y2="157.3" stroke="#cc7068" stroke-width="1.9" stroke-opacity="0.17" stroke-linecap="round"/><line x1="334.0" y1="170.8" x2="343.1" y2="168.2" stroke="#b04444" stroke-width="1.7" stroke-opacity="0.69" stroke-linecap="round"/><line x1="523.9" y1="127.8" x2="527.5" y2="126.8" stroke="#b8504a" stroke-width="1.1" stroke-opacity="0.13" stroke-linecap="round"/><line x1="480.2" y1="162.8" x2="488.3" y2="160.5" stroke="#c45a55" stroke-width="1.1" stroke-opacity="0.26" stroke-linecap="round"/><line x1="436.4" y1="180.1" x2="449.1" y2="176.5" stroke="#a03636" stroke-width="1.0" stroke-opacity="0.54" stroke-linecap="round"/><line x1="296.3" y1="181.8" x2="308.2" y2="178.4" stroke="#cc7068" stroke-width="1.3" stroke-opacity="0.41" stroke-linecap="round"/><line x1="385.1" y1="159.4" x2="388.6" y2="158.4" stroke="#c45a55" stroke-width="1.2" stroke-opacity="0.80" stroke-linecap="round"/><line x1="366.8" y1="161.4" x2="373.3" y2="159.6" stroke="#c45a55" stroke-width="0.8" stroke-opacity="0.27" stroke-linecap="round"/><line x1="286.1" y1="226.9" x2="298.6" y2="223.4" stroke="#cc7068" stroke-width="1.9" stroke-opacity="0.52" stroke-linecap="round"/><line x1="315.6" y1="176.6" x2="323.5" y2="174.3" stroke="#cc7068" stroke-width="1.1" stroke-opacity="0.58" stroke-linecap="round"/><line x1="251.8" y1="199.5" x2="256.7" y2="198.0" stroke="#5f7da3" stroke-width="1.2" stroke-opacity="0.24" stroke-linecap="round"/><line x1="453.6" y1="156.0" x2="465.9" y2="152.5" stroke="#cc7068" stroke-width="1.9" stroke-opacity="0.74" stroke-linecap="round"/><line x1="436.0" y1="142.3" x2="442.5" y2="140.5" stroke="#b84240" stroke-width="1.6" stroke-opacity="0.38" stroke-linecap="round"/><line x1="363.4" y1="179.6" x2="368.2" y2="178.2" stroke="#b8504a" stroke-width="0.8" stroke-opacity="0.78" stroke-linecap="round"/><line x1="320.2" y1="187.2" x2="333.2" y2="183.6" stroke="#b84240" stroke-width="1.4" stroke-opacity="0.75" stroke-linecap="round"/><line x1="475.6" y1="162.7" x2="483.9" y2="160.3" stroke="#c45a55" stroke-width="1.9" stroke-opacity="0.28" stroke-linecap="round"/><line x1="437.0" y1="151.8" x2="446.5" y2="149.1" stroke="#b84240" stroke-width="1.2" stroke-opacity="0.67" stroke-linecap="round"/><line x1="359.3" y1="177.3" x2="366.4" y2="175.3" stroke="#b04444" stroke-width="1.9" stroke-opacity="0.49" stroke-linecap="round"/><line x1="405.5" y1="189.6" x2="417.3" y2="186.2" stroke="#b04444" stroke-width="1.5" stroke-opacity="0.34" stroke-linecap="round"/><line x1="371.3" y1="191.5" x2="382.9" y2="188.2" stroke="#a03636" stroke-width="1.6" stroke-opacity="0.78" stroke-linecap="round"/><line x1="375.3" y1="171.1" x2="387.4" y2="167.7" stroke="#b8504a" stroke-width="1.2" stroke-opacity="0.51" stroke-linecap="round"/><line x1="448.4" y1="143.0" x2="456.4" y2="140.8" stroke="#a03636" stroke-width="1.1" stroke-opacity="0.74" stroke-linecap="round"/><line x1="355.5" y1="168.1" x2="361.5" y2="166.4" stroke="#c45a55" stroke-width="1.1" stroke-opacity="0.71" stroke-linecap="round"/><line x1="283.4" y1="202.5" x2="291.7" y2="200.2" stroke="#5f7da3" stroke-width="1.9" stroke-opacity="0.27" stroke-linecap="round"/><line x1="430.6" y1="149.5" x2="438.9" y2="147.2" stroke="#c45a55" stroke-width="2.0" stroke-opacity="0.41" stroke-linecap="round"/><line x1="366.0" y1="170.1" x2="371.7" y2="168.5" stroke="#a03636" stroke-width="1.9" stroke-opacity="0.38" stroke-linecap="round"/><line x1="281.0" y1="215.9" x2="287.2" y2="214.2" stroke="#b84240" stroke-width="1.4" stroke-opacity="0.79" stroke-linecap="round"/><line x1="396.5" y1="170.0" x2="408.2" y2="166.7" stroke="#c45a55" stroke-width="1.3" stroke-opacity="0.77" stroke-linecap="round"/><line x1="499.9" y1="130.3" x2="509.2" y2="127.7" stroke="#b04444" stroke-width="1.1" stroke-opacity="0.20" stroke-linecap="round"/><line x1="308.7" y1="202.2" x2="320.9" y2="198.8" stroke="#b8504a" stroke-width="1.1" stroke-opacity="0.74" stroke-linecap="round"/><line x1="317.9" y1="200.2" x2="328.7" y2="197.1" stroke="#cc7068" stroke-width="0.8" stroke-opacity="0.70" stroke-linecap="round"/><line x1="451.3" y1="158.2" x2="463.5" y2="154.7" stroke="#cc7068" stroke-width="1.2" stroke-opacity="0.75" stroke-linecap="round"/><line x1="509.2" y1="158.1" x2="517.6" y2="155.7" stroke="#a03636" stroke-width="1.6" stroke-opacity="0.12" stroke-linecap="round"/><line x1="327.6" y1="195.1" x2="341.5" y2="191.2" stroke="#b8504a" stroke-width="1.5" stroke-opacity="0.27" stroke-linecap="round"/><line x1="256.7" y1="213.0" x2="264.6" y2="210.8" stroke="#b84240" stroke-width="1.1" stroke-opacity="0.53" stroke-linecap="round"/><line x1="508.0" y1="160.7" x2="519.5" y2="157.4" stroke="#cc7068" stroke-width="0.9" stroke-opacity="0.36" stroke-linecap="round"/><line x1="521.9" y1="158.7" x2="530.4" y2="156.3" stroke="#cc7068" stroke-width="1.0" stroke-opacity="0.16" stroke-linecap="round"/><line x1="304.9" y1="179.2" x2="314.7" y2="176.4" stroke="#c45a55" stroke-width="1.8" stroke-opacity="0.34" stroke-linecap="round"/><line x1="244.9" y1="196.5" x2="255.5" y2="193.5" stroke="#b84240" stroke-width="1.6" stroke-opacity="0.36" stroke-linecap="round"/><line x1="374.0" y1="166.7" x2="381.9" y2="164.5" stroke="#b84240" stroke-width="0.9" stroke-opacity="0.44" stroke-linecap="round"/><line x1="289.0" y1="202.7" x2="297.5" y2="200.3" stroke="#b84240" stroke-width="1.9" stroke-opacity="0.40" stroke-linecap="round"/><line x1="395.5" y1="160.2" x2="401.0" y2="158.6" stroke="#a03636" stroke-width="1.0" stroke-opacity="0.62" stroke-linecap="round"/><line x1="508.0" y1="161.8" x2="515.2" y2="159.8" stroke="#cc7068" stroke-width="1.3" stroke-opacity="0.24" stroke-linecap="round"/><line x1="533.3" y1="147.1" x2="540.1" y2="145.2" stroke="#c45a55" stroke-width="1.8" stroke-opacity="0.06" stroke-linecap="round"/><line x1="436.1" y1="184.4" x2="442.6" y2="182.5" stroke="#5f7da3" stroke-width="1.4" stroke-opacity="0.38" stroke-linecap="round"/><line x1="545.1" y1="151.2" x2="550.9" y2="149.6" stroke="#5f7da3" stroke-width="0.9" stroke-opacity="0.00" stroke-linecap="round"/><line x1="299.7" y1="191.7" x2="304.9" y2="190.3" stroke="#b04444" stroke-width="2.0" stroke-opacity="0.62" stroke-linecap="round"/><line x1="493.9" y1="165.8" x2="503.9" y2="162.9" stroke="#5f7da3" stroke-width="1.6" stroke-opacity="0.38" stroke-linecap="round"/><line x1="337.7" y1="197.6" x2="343.8" y2="196.0" stroke="#b84240" stroke-width="1.1" stroke-opacity="0.55" stroke-linecap="round"/><line x1="398.8" y1="168.9" x2="412.2" y2="165.1" stroke="#c45a55" stroke-width="1.0" stroke-opacity="0.41" stroke-linecap="round"/><line x1="292.2" y1="223.7" x2="305.4" y2="220.0" stroke="#b84240" stroke-width="1.4" stroke-opacity="0.75" stroke-linecap="round"/><line x1="279.6" y1="188.0" x2="284.0" y2="186.7" stroke="#a03636" stroke-width="1.1" stroke-opacity="0.41" stroke-linecap="round"/><line x1="473.6" y1="162.3" x2="479.7" y2="160.5" stroke="#b8504a" stroke-width="1.6" stroke-opacity="0.48" stroke-linecap="round"/><line x1="320.9" y1="203.9" x2="329.0" y2="201.6" stroke="#cc7068" stroke-width="1.8" stroke-opacity="0.55" stroke-linecap="round"/><line x1="255.8" y1="204.6" x2="260.9" y2="203.1" stroke="#cc7068" stroke-width="1.9" stroke-opacity="0.55" stroke-linecap="round"/><line x1="320.8" y1="215.3" x2="327.3" y2="213.4" stroke="#c45a55" stroke-width="2.0" stroke-opacity="0.43" stroke-linecap="round"/><line x1="350.4" y1="198.5" x2="355.1" y2="197.2" stroke="#c45a55" stroke-width="0.9" stroke-opacity="0.29" stroke-linecap="round"/><line x1="361.6" y1="179.7" x2="372.7" y2="176.6" stroke="#b04444" stroke-width="1.6" stroke-opacity="0.31" stroke-linecap="round"/><line x1="515.1" y1="135.3" x2="525.4" y2="132.4" stroke="#b04444" stroke-width="1.8" stroke-opacity="0.13" stroke-linecap="round"/><line x1="487.7" y1="147.8" x2="498.8" y2="144.7" stroke="#a03636" stroke-width="1.6" stroke-opacity="0.50" stroke-linecap="round"/><line x1="442.6" y1="169.3" x2="450.1" y2="167.1" stroke="#a03636" stroke-width="1.5" stroke-opacity="0.31" stroke-linecap="round"/><line x1="416.2" y1="188.9" x2="425.5" y2="186.3" stroke="#c45a55" stroke-width="1.5" stroke-opacity="0.48" stroke-linecap="round"/><line x1="359.8" y1="180.8" x2="367.8" y2="178.5" stroke="#c45a55" stroke-width="1.4" stroke-opacity="0.65" stroke-linecap="round"/><line x1="429.7" y1="170.3" x2="432.7" y2="169.4" stroke="#a03636" stroke-width="1.2" stroke-opacity="0.66" stroke-linecap="round"/><line x1="420.1" y1="180.3" x2="427.9" y2="178.1" stroke="#b04444" stroke-width="1.9" stroke-opacity="0.46" stroke-linecap="round"/><line x1="361.6" y1="198.7" x2="373.8" y2="195.2" stroke="#b04444" stroke-width="1.9" stroke-opacity="0.78" stroke-linecap="round"/><line x1="503.7" y1="120.2" x2="509.5" y2="118.5" stroke="#c45a55" stroke-width="1.7" stroke-opacity="0.41" stroke-linecap="round"/><line x1="429.3" y1="186.9" x2="438.0" y2="184.4" stroke="#b8504a" stroke-width="1.4" stroke-opacity="0.53" stroke-linecap="round"/><line x1="274.0" y1="215.5" x2="281.9" y2="213.3" stroke="#b84240" stroke-width="0.9" stroke-opacity="0.26" stroke-linecap="round"/><line x1="356.0" y1="179.5" x2="365.2" y2="176.9" stroke="#b04444" stroke-width="1.4" stroke-opacity="0.57" stroke-linecap="round"/><line x1="384.7" y1="181.9" x2="398.6" y2="177.9" stroke="#cc7068" stroke-width="0.9" stroke-opacity="0.44" stroke-linecap="round"/><line x1="351.1" y1="179.2" x2="355.0" y2="178.1" stroke="#b04444" stroke-width="1.9" stroke-opacity="0.42" stroke-linecap="round"/><line x1="464.2" y1="168.7" x2="478.1" y2="164.8" stroke="#a03636" stroke-width="1.4" stroke-opacity="0.74" stroke-linecap="round"/><line x1="472.3" y1="137.6" x2="485.1" y2="134.0" stroke="#b84240" stroke-width="1.5" stroke-opacity="0.46" stroke-linecap="round"/><line x1="376.7" y1="201.5" x2="386.7" y2="198.7" stroke="#5f7da3" stroke-width="0.8" stroke-opacity="0.22" stroke-linecap="round"/><line x1="458.0" y1="157.8" x2="471.1" y2="154.1" stroke="#b84240" stroke-width="1.6" stroke-opacity="0.47" stroke-linecap="round"/><line x1="310.1" y1="197.0" x2="319.1" y2="194.4" stroke="#b8504a" stroke-width="1.4" stroke-opacity="0.40" stroke-linecap="round"/><line x1="281.6" y1="190.9" x2="291.2" y2="188.2" stroke="#cc7068" stroke-width="0.9" stroke-opacity="0.33" stroke-linecap="round"/><line x1="268.0" y1="193.4" x2="276.8" y2="191.0" stroke="#cc7068" stroke-width="1.8" stroke-opacity="0.70" stroke-linecap="round"/><line x1="446.8" y1="167.2" x2="456.2" y2="164.5" stroke="#b04444" stroke-width="1.0" stroke-opacity="0.33" stroke-linecap="round"/><line x1="311.9" y1="177.7" x2="324.9" y2="174.1" stroke="#c45a55" stroke-width="1.5" stroke-opacity="0.57" stroke-linecap="round"/><line x1="247.4" y1="201.6" x2="254.8" y2="199.5" stroke="#b84240" stroke-width="1.5" stroke-opacity="0.67" stroke-linecap="round"/><line x1="304.5" y1="177.2" x2="317.8" y2="173.5" stroke="#5f7da3" stroke-width="1.8" stroke-opacity="0.58" stroke-linecap="round"/><line x1="379.7" y1="173.6" x2="385.5" y2="172.0" stroke="#b84240" stroke-width="1.3" stroke-opacity="0.74" stroke-linecap="round"/><line x1="445.3" y1="145.8" x2="451.7" y2="144.0" stroke="#5f7da3" stroke-width="1.8" stroke-opacity="0.59" stroke-linecap="round"/><line x1="264.4" y1="194.4" x2="271.6" y2="192.4" stroke="#c45a55" stroke-width="1.2" stroke-opacity="0.25" stroke-linecap="round"/><line x1="366.0" y1="198.7" x2="372.7" y2="196.9" stroke="#b84240" stroke-width="1.9" stroke-opacity="0.61" stroke-linecap="round"/><line x1="406.2" y1="164.7" x2="414.3" y2="162.4" stroke="#5f7da3" stroke-width="1.6" stroke-opacity="0.35" stroke-linecap="round"/><line x1="335.6" y1="173.7" x2="346.4" y2="170.6" stroke="#c45a55" stroke-width="1.7" stroke-opacity="0.30" stroke-linecap="round"/><line x1="410.1" y1="167.3" x2="421.8" y2="164.0" stroke="#c45a55" stroke-width="1.7" stroke-opacity="0.38" stroke-linecap="round"/><line x1="381.8" y1="198.4" x2="387.1" y2="196.9" stroke="#cc7068" stroke-width="1.8" stroke-opacity="0.77" stroke-linecap="round"/><line x1="465.5" y1="174.0" x2="479.5" y2="170.1" stroke="#a03636" stroke-width="1.2" stroke-opacity="0.58" stroke-linecap="round"/><line x1="329.1" y1="196.8" x2="334.4" y2="195.3" stroke="#b84240" stroke-width="0.9" stroke-opacity="0.73" stroke-linecap="round"/><line x1="506.2" y1="152.9" x2="517.6" y2="149.6" stroke="#b8504a" stroke-width="1.2" stroke-opacity="0.14" stroke-linecap="round"/><line x1="346.2" y1="167.4" x2="351.2" y2="166.0" stroke="#c45a55" stroke-width="1.9" stroke-opacity="0.72" stroke-linecap="round"/><line x1="292.4" y1="221.5" x2="304.2" y2="218.2" stroke="#b04444" stroke-width="1.2" stroke-opacity="0.67" stroke-linecap="round"/><line x1="301.8" y1="181.8" x2="312.6" y2="178.8" stroke="#a03636" stroke-width="1.4" stroke-opacity="0.41" stroke-linecap="round"/><line x1="438.0" y1="167.0" x2="450.5" y2="163.5" stroke="#5f7da3" stroke-width="1.6" stroke-opacity="0.61" stroke-linecap="round"/><line x1="435.6" y1="154.7" x2="443.2" y2="152.6" stroke="#b8504a" stroke-width="2.0" stroke-opacity="0.61" stroke-linecap="round"/><line x1="386.1" y1="194.7" x2="390.2" y2="193.6" stroke="#c45a55" stroke-width="1.7" stroke-opacity="0.41" stroke-linecap="round"/><line x1="435.5" y1="140.1" x2="438.9" y2="139.1" stroke="#b04444" stroke-width="1.0" stroke-opacity="0.34" stroke-linecap="round"/><line x1="465.8" y1="155.6" x2="475.7" y2="152.8" stroke="#cc7068" stroke-width="1.5" stroke-opacity="0.77" stroke-linecap="round"/><line x1="446.3" y1="147.1" x2="454.1" y2="144.9" stroke="#c45a55" stroke-width="0.9" stroke-opacity="0.63" stroke-linecap="round"/><line x1="477.6" y1="157.1" x2="490.5" y2="153.5" stroke="#cc7068" stroke-width="0.9" stroke-opacity="0.66" stroke-linecap="round"/><line x1="306.2" y1="179.9" x2="317.9" y2="176.6" stroke="#c45a55" stroke-width="0.9" stroke-opacity="0.37" stroke-linecap="round"/><line x1="446.3" y1="153.6" x2="457.5" y2="150.5" stroke="#c45a55" stroke-width="1.2" stroke-opacity="0.71" stroke-linecap="round"/><line x1="520.7" y1="135.0" x2="527.4" y2="133.1" stroke="#b8504a" stroke-width="1.6" stroke-opacity="0.17" stroke-linecap="round"/><line x1="362.6" y1="161.3" x2="373.3" y2="158.3" stroke="#cc7068" stroke-width="1.7" stroke-opacity="0.49" stroke-linecap="round"/><line x1="379.0" y1="163.0" x2="392.5" y2="159.2" stroke="#cc7068" stroke-width="1.5" stroke-opacity="0.70" stroke-linecap="round"/><line x1="535.0" y1="140.1" x2="544.0" y2="137.6" stroke="#b84240" stroke-width="1.2" stroke-opacity="0.05" stroke-linecap="round"/><line x1="286.8" y1="210.0" x2="291.3" y2="208.8" stroke="#a03636" stroke-width="1.1" stroke-opacity="0.63" stroke-linecap="round"/><line x1="323.6" y1="194.0" x2="331.5" y2="191.7" stroke="#c45a55" stroke-width="1.0" stroke-opacity="0.76" stroke-linecap="round"/><line x1="458.7" y1="159.3" x2="464.4" y2="157.7" stroke="#b84240" stroke-width="1.7" stroke-opacity="0.60" stroke-linecap="round"/><line x1="309.9" y1="204.9" x2="319.5" y2="202.2" stroke="#a03636" stroke-width="0.9" stroke-opacity="0.50" stroke-linecap="round"/><line x1="330.1" y1="184.9" x2="335.4" y2="183.4" stroke="#c45a55" stroke-width="0.9" stroke-opacity="0.28" stroke-linecap="round"/><line x1="362.8" y1="204.0" x2="367.5" y2="202.6" stroke="#cc7068" stroke-width="1.0" stroke-opacity="0.49" stroke-linecap="round"/><line x1="252.8" y1="190.2" x2="266.7" y2="186.3" stroke="#b84240" stroke-width="1.2" stroke-opacity="0.66" stroke-linecap="round"/><line x1="453.0" y1="145.7" x2="463.1" y2="142.8" stroke="#a03636" stroke-width="1.5" stroke-opacity="0.78" stroke-linecap="round"/><line x1="275.7" y1="226.5" x2="285.8" y2="223.6" stroke="#b8504a" stroke-width="1.1" stroke-opacity="0.60" stroke-linecap="round"/><line x1="307.9" y1="180.7" x2="311.2" y2="179.8" stroke="#b04444" stroke-width="1.0" stroke-opacity="0.68" stroke-linecap="round"/><line x1="450.6" y1="173.7" x2="463.8" y2="170.0" stroke="#b8504a" stroke-width="1.7" stroke-opacity="0.34" stroke-linecap="round"/><line x1="332.8" y1="175.8" x2="344.8" y2="172.4" stroke="#c45a55" stroke-width="1.9" stroke-opacity="0.43" stroke-linecap="round"/><line x1="480.5" y1="137.4" x2="484.1" y2="136.4" stroke="#b8504a" stroke-width="2.0" stroke-opacity="0.27" stroke-linecap="round"/><line x1="348.4" y1="165.1" x2="353.8" y2="163.6" stroke="#b8504a" stroke-width="1.2" stroke-opacity="0.48" stroke-linecap="round"/><line x1="400.1" y1="152.0" x2="410.6" y2="149.0" stroke="#a03636" stroke-width="1.3" stroke-opacity="0.34" stroke-linecap="round"/><line x1="547.3" y1="146.6" x2="555.6" y2="144.3" stroke="#5f7da3" stroke-width="1.8" stroke-opacity="0.00" stroke-linecap="round"/><line x1="509.5" y1="154.3" x2="517.1" y2="152.2" stroke="#5f7da3" stroke-width="1.7" stroke-opacity="0.15" stroke-linecap="round"/><line x1="486.9" y1="126.6" x2="490.0" y2="125.8" stroke="#b04444" stroke-width="1.0" stroke-opacity="0.60" stroke-linecap="round"/><line x1="335.6" y1="187.2" x2="344.8" y2="184.6" stroke="#b04444" stroke-width="1.5" stroke-opacity="0.44" stroke-linecap="round"/><line x1="397.5" y1="169.0" x2="406.4" y2="166.5" stroke="#b04444" stroke-width="2.0" stroke-opacity="0.59" stroke-linecap="round"/><line x1="443.9" y1="173.9" x2="447.6" y2="172.9" stroke="#cc7068" stroke-width="1.5" stroke-opacity="0.62" stroke-linecap="round"/><line x1="367.8" y1="174.6" x2="378.0" y2="171.7" stroke="#c45a55" stroke-width="1.6" stroke-opacity="0.33" stroke-linecap="round"/><line x1="482.0" y1="135.5" x2="493.2" y2="132.4" stroke="#b04444" stroke-width="1.2" stroke-opacity="0.53" stroke-linecap="round"/><line x1="415.1" y1="163.5" x2="423.9" y2="161.0" stroke="#a03636" stroke-width="1.1" stroke-opacity="0.56" stroke-linecap="round"/><line x1="515.2" y1="125.2" x2="526.5" y2="122.1" stroke="#c45a55" stroke-width="1.0" stroke-opacity="0.15" stroke-linecap="round"/><line x1="453.6" y1="166.4" x2="459.1" y2="164.9" stroke="#cc7068" stroke-width="0.9" stroke-opacity="0.50" stroke-linecap="round"/><line x1="403.7" y1="174.8" x2="407.6" y2="173.7" stroke="#b84240" stroke-width="1.0" stroke-opacity="0.47" stroke-linecap="round"/><line x1="397.2" y1="172.8" x2="409.4" y2="169.4" stroke="#b8504a" stroke-width="1.7" stroke-opacity="0.77" stroke-linecap="round"/><line x1="298.3" y1="215.9" x2="305.6" y2="213.9" stroke="#b04444" stroke-width="1.7" stroke-opacity="0.34" stroke-linecap="round"/><line x1="305.6" y1="211.3" x2="309.3" y2="210.3" stroke="#5f7da3" stroke-width="1.6" stroke-opacity="0.30" stroke-linecap="round"/><line x1="523.1" y1="135.1" x2="527.5" y2="133.9" stroke="#b84240" stroke-width="1.8" stroke-opacity="0.09" stroke-linecap="round"/><line x1="432.6" y1="182.1" x2="445.2" y2="178.6" stroke="#b8504a" stroke-width="1.8" stroke-opacity="0.34" stroke-linecap="round"/><line x1="440.8" y1="137.2" x2="446.6" y2="135.6" stroke="#cc7068" stroke-width="1.9" stroke-opacity="0.38" stroke-linecap="round"/><line x1="438.2" y1="139.5" x2="447.9" y2="136.7" stroke="#cc7068" stroke-width="1.5" stroke-opacity="0.30" stroke-linecap="round"/><line x1="282.6" y1="224.1" x2="288.3" y2="222.5" stroke="#b8504a" stroke-width="1.8" stroke-opacity="0.44" stroke-linecap="round"/><line x1="401.6" y1="153.1" x2="404.9" y2="152.2" stroke="#c45a55" stroke-width="1.5" stroke-opacity="0.31" stroke-linecap="round"/><line x1="345.0" y1="196.0" x2="352.2" y2="194.0" stroke="#c45a55" stroke-width="1.6" stroke-opacity="0.33" stroke-linecap="round"/><line x1="503.4" y1="163.6" x2="506.6" y2="162.8" stroke="#b04444" stroke-width="1.4" stroke-opacity="0.24" stroke-linecap="round"/><line x1="278.6" y1="221.8" x2="282.4" y2="220.7" stroke="#b8504a" stroke-width="1.3" stroke-opacity="0.59" stroke-linecap="round"/><line x1="373.8" y1="163.0" x2="386.1" y2="159.6" stroke="#cc7068" stroke-width="1.2" stroke-opacity="0.47" stroke-linecap="round"/><line x1="395.5" y1="164.1" x2="399.9" y2="162.8" stroke="#b04444" stroke-width="1.2" stroke-opacity="0.59" stroke-linecap="round"/><line x1="390.3" y1="178.0" x2="397.6" y2="176.0" stroke="#b84240" stroke-width="1.4" stroke-opacity="0.44" stroke-linecap="round"/><line x1="307.3" y1="186.0" x2="320.0" y2="182.5" stroke="#b8504a" stroke-width="1.6" stroke-opacity="0.58" stroke-linecap="round"/><line x1="321.5" y1="183.2" x2="330.0" y2="180.8" stroke="#cc7068" stroke-width="1.5" stroke-opacity="0.39" stroke-linecap="round"/><line x1="302.8" y1="208.5" x2="315.9" y2="204.8" stroke="#b84240" stroke-width="1.7" stroke-opacity="0.75" stroke-linecap="round"/><line x1="439.7" y1="166.8" x2="446.7" y2="164.9" stroke="#b04444" stroke-width="1.9" stroke-opacity="0.40" stroke-linecap="round"/><line x1="438.5" y1="151.6" x2="449.9" y2="148.4" stroke="#cc7068" stroke-width="1.1" stroke-opacity="0.66" stroke-linecap="round"/><line x1="511.2" y1="150.5" x2="517.9" y2="148.6" stroke="#b8504a" stroke-width="2.0" stroke-opacity="0.29" stroke-linecap="round"/><line x1="384.8" y1="169.8" x2="390.5" y2="168.2" stroke="#c45a55" stroke-width="1.0" stroke-opacity="0.38" stroke-linecap="round"/><line x1="513.7" y1="147.7" x2="521.2" y2="145.6" stroke="#c45a55" stroke-width="1.5" stroke-opacity="0.20" stroke-linecap="round"/><line x1="305.1" y1="208.8" x2="310.9" y2="207.2" stroke="#b8504a" stroke-width="1.2" stroke-opacity="0.56" stroke-linecap="round"/><line x1="519.0" y1="142.1" x2="522.8" y2="141.0" stroke="#cc7068" stroke-width="1.4" stroke-opacity="0.12" stroke-linecap="round"/><line x1="537.7" y1="141.8" x2="548.7" y2="138.7" stroke="#a03636" stroke-width="1.0" stroke-opacity="0.07" stroke-linecap="round"/><line x1="510.6" y1="142.7" x2="522.0" y2="139.5" stroke="#b04444" stroke-width="1.1" stroke-opacity="0.27" stroke-linecap="round"/><line x1="354.1" y1="170.6" x2="363.7" y2="167.8" stroke="#b8504a" stroke-width="1.1" stroke-opacity="0.73" stroke-linecap="round"/><line x1="253.9" y1="195.5" x2="257.4" y2="194.5" stroke="#cc7068" stroke-width="1.0" stroke-opacity="0.29" stroke-linecap="round"/><line x1="309.4" y1="199.0" x2="322.0" y2="195.4" stroke="#b84240" stroke-width="1.2" stroke-opacity="0.60" stroke-linecap="round"/><line x1="473.3" y1="158.0" x2="480.7" y2="155.9" stroke="#c45a55" stroke-width="1.8" stroke-opacity="0.60" stroke-linecap="round"/><line x1="461.3" y1="135.0" x2="471.0" y2="132.3" stroke="#cc7068" stroke-width="1.9" stroke-opacity="0.68" stroke-linecap="round"/><line x1="480.3" y1="126.8" x2="486.8" y2="124.9" stroke="#5f7da3" stroke-width="1.5" stroke-opacity="0.42" stroke-linecap="round"/><line x1="451.7" y1="149.1" x2="455.8" y2="147.9" stroke="#b04444" stroke-width="1.8" stroke-opacity="0.34" stroke-linecap="round"/><line x1="349.5" y1="179.4" x2="356.3" y2="177.5" stroke="#cc7068" stroke-width="2.0" stroke-opacity="0.62" stroke-linecap="round"/><line x1="405.1" y1="157.6" x2="414.9" y2="154.8" stroke="#a03636" stroke-width="1.7" stroke-opacity="0.70" stroke-linecap="round"/><line x1="354.3" y1="197.4" x2="368.0" y2="193.5" stroke="#c45a55" stroke-width="1.4" stroke-opacity="0.50" stroke-linecap="round"/><line x1="320.9" y1="182.4" x2="330.0" y2="179.8" stroke="#c45a55" stroke-width="1.6" stroke-opacity="0.30" stroke-linecap="round"/><line x1="389.5" y1="197.2" x2="402.8" y2="193.4" stroke="#b84240" stroke-width="1.4" stroke-opacity="0.59" stroke-linecap="round"/><line x1="397.3" y1="157.5" x2="410.7" y2="153.7" stroke="#b04444" stroke-width="1.8" stroke-opacity="0.45" stroke-linecap="round"/><line x1="509.2" y1="154.0" x2="518.0" y2="151.5" stroke="#b8504a" stroke-width="2.0" stroke-opacity="0.21" stroke-linecap="round"/><line x1="401.8" y1="177.6" x2="408.6" y2="175.7" stroke="#a03636" stroke-width="1.7" stroke-opacity="0.69" stroke-linecap="round"/><line x1="269.2" y1="216.1" x2="272.4" y2="215.2" stroke="#a03636" stroke-width="1.2" stroke-opacity="0.69" stroke-linecap="round"/><line x1="313.5" y1="190.3" x2="326.5" y2="186.6" stroke="#b8504a" stroke-width="1.1" stroke-opacity="0.46" stroke-linecap="round"/><line x1="315.1" y1="184.5" x2="322.9" y2="182.3" stroke="#b04444" stroke-width="1.3" stroke-opacity="0.38" stroke-linecap="round"/><line x1="350.4" y1="203.5" x2="358.9" y2="201.1" stroke="#b04444" stroke-width="1.9" stroke-opacity="0.79" stroke-linecap="round"/><line x1="492.6" y1="166.9" x2="497.1" y2="165.7" stroke="#b84240" stroke-width="1.4" stroke-opacity="0.29" stroke-linecap="round"/><line x1="491.4" y1="130.0" x2="501.9" y2="127.1" stroke="#a03636" stroke-width="0.9" stroke-opacity="0.41" stroke-linecap="round"/><line x1="491.7" y1="162.4" x2="502.8" y2="159.2" stroke="#a03636" stroke-width="1.8" stroke-opacity="0.20" stroke-linecap="round"/><line x1="526.9" y1="126.4" x2="530.2" y2="125.5" stroke="#b84240" stroke-width="1.2" stroke-opacity="0.08" stroke-linecap="round"/><line x1="390.1" y1="167.5" x2="401.3" y2="164.4" stroke="#a03636" stroke-width="1.2" stroke-opacity="0.51" stroke-linecap="round"/><line x1="524.2" y1="146.9" x2="536.9" y2="143.3" stroke="#b84240" stroke-width="1.0" stroke-opacity="0.22" stroke-linecap="round"/><line x1="410.2" y1="146.0" x2="414.7" y2="144.8" stroke="#cc7068" stroke-width="0.9" stroke-opacity="0.58" stroke-linecap="round"/><line x1="282.2" y1="228.0" x2="288.7" y2="226.2" stroke="#b84240" stroke-width="2.0" stroke-opacity="0.73" stroke-linecap="round"/><line x1="380.8" y1="153.7" x2="386.3" y2="152.2" stroke="#b8504a" stroke-width="1.4" stroke-opacity="0.55" stroke-linecap="round"/><line x1="279.7" y1="198.7" x2="288.2" y2="196.4" stroke="#c45a55" stroke-width="1.8" stroke-opacity="0.76" stroke-linecap="round"/><line x1="517.2" y1="125.7" x2="521.0" y2="124.6" stroke="#b84240" stroke-width="0.9" stroke-opacity="0.24" stroke-linecap="round"/><line x1="267.1" y1="209.6" x2="274.6" y2="207.5" stroke="#c45a55" stroke-width="1.2" stroke-opacity="0.56" stroke-linecap="round"/><line x1="264.1" y1="207.8" x2="270.2" y2="206.1" stroke="#a03636" stroke-width="1.8" stroke-opacity="0.43" stroke-linecap="round"/><line x1="453.1" y1="152.0" x2="459.6" y2="150.2" stroke="#b04444" stroke-width="1.3" stroke-opacity="0.48" stroke-linecap="round"/><line x1="354.5" y1="167.8" x2="368.4" y2="163.8" stroke="#cc7068" stroke-width="2.0" stroke-opacity="0.25" stroke-linecap="round"/><line x1="461.2" y1="165.3" x2="475.1" y2="161.4" stroke="#b8504a" stroke-width="1.8" stroke-opacity="0.70" stroke-linecap="round"/><line x1="494.7" y1="164.2" x2="498.3" y2="163.2" stroke="#c45a55" stroke-width="1.3" stroke-opacity="0.42" stroke-linecap="round"/><line x1="441.5" y1="157.9" x2="450.9" y2="155.3" stroke="#b8504a" stroke-width="1.4" stroke-opacity="0.51" stroke-linecap="round"/><line x1="444.4" y1="182.4" x2="450.0" y2="180.9" stroke="#b8504a" stroke-width="1.2" stroke-opacity="0.60" stroke-linecap="round"/><line x1="294.1" y1="224.0" x2="300.0" y2="222.3" stroke="#c45a55" stroke-width="1.8" stroke-opacity="0.61" stroke-linecap="round"/><line x1="461.6" y1="174.3" x2="473.0" y2="171.1" stroke="#a03636" stroke-width="1.2" stroke-opacity="0.39" stroke-linecap="round"/><line x1="424.5" y1="168.1" x2="438.5" y2="164.2" stroke="#cc7068" stroke-width="1.0" stroke-opacity="0.29" stroke-linecap="round"/><line x1="296.3" y1="194.6" x2="306.7" y2="191.7" stroke="#b8504a" stroke-width="1.6" stroke-opacity="0.33" stroke-linecap="round"/><line x1="506.4" y1="160.2" x2="518.9" y2="156.7" stroke="#a03636" stroke-width="1.8" stroke-opacity="0.14" stroke-linecap="round"/><line x1="371.6" y1="175.5" x2="382.3" y2="172.5" stroke="#c45a55" stroke-width="1.8" stroke-opacity="0.46" stroke-linecap="round"/><line x1="399.9" y1="169.5" x2="403.9" y2="168.4" stroke="#a03636" stroke-width="1.3" stroke-opacity="0.47" stroke-linecap="round"/><line x1="403.3" y1="184.8" x2="414.6" y2="181.6" stroke="#b8504a" stroke-width="1.4" stroke-opacity="0.33" stroke-linecap="round"/><line x1="446.9" y1="164.3" x2="455.6" y2="161.8" stroke="#5f7da3" stroke-width="1.0" stroke-opacity="0.55" stroke-linecap="round"/><line x1="396.1" y1="152.0" x2="401.0" y2="150.6" stroke="#c45a55" stroke-width="1.1" stroke-opacity="0.64" stroke-linecap="round"/><line x1="326.8" y1="189.4" x2="335.6" y2="187.0" stroke="#b84240" stroke-width="1.3" stroke-opacity="0.52" stroke-linecap="round"/><line x1="484.0" y1="153.5" x2="491.1" y2="151.6" stroke="#a03636" stroke-width="0.9" stroke-opacity="0.22" stroke-linecap="round"/><line x1="488.8" y1="168.8" x2="496.5" y2="166.6" stroke="#c45a55" stroke-width="1.3" stroke-opacity="0.44" stroke-linecap="round"/><line x1="437.4" y1="181.1" x2="442.5" y2="179.7" stroke="#b8504a" stroke-width="0.9" stroke-opacity="0.78" stroke-linecap="round"/><line x1="328.2" y1="208.9" x2="332.1" y2="207.8" stroke="#a03636" stroke-width="1.4" stroke-opacity="0.50" stroke-linecap="round"/><line x1="521.1" y1="149.6" x2="524.4" y2="148.7" stroke="#a03636" stroke-width="1.6" stroke-opacity="0.18" stroke-linecap="round"/><line x1="400.2" y1="194.9" x2="405.1" y2="193.5" stroke="#a03636" stroke-width="1.4" stroke-opacity="0.29" stroke-linecap="round"/><line x1="495.5" y1="152.8" x2="506.7" y2="149.6" stroke="#b84240" stroke-width="1.2" stroke-opacity="0.31" stroke-linecap="round"/><line x1="342.9" y1="182.5" x2="350.9" y2="180.3" stroke="#b84240" stroke-width="0.8" stroke-opacity="0.30" stroke-linecap="round"/><line x1="410.8" y1="185.0" x2="416.2" y2="183.5" stroke="#b8504a" stroke-width="1.2" stroke-opacity="0.50" stroke-linecap="round"/><line x1="501.0" y1="145.6" x2="512.2" y2="142.4" stroke="#b04444" stroke-width="1.8" stroke-opacity="0.42" stroke-linecap="round"/><line x1="485.3" y1="131.0" x2="492.0" y2="129.1" stroke="#b84240" stroke-width="1.4" stroke-opacity="0.43" stroke-linecap="round"/><line x1="383.1" y1="157.0" x2="390.3" y2="155.0" stroke="#c45a55" stroke-width="1.4" stroke-opacity="0.62" stroke-linecap="round"/><line x1="353.2" y1="163.8" x2="359.6" y2="162.0" stroke="#a03636" stroke-width="1.1" stroke-opacity="0.73" stroke-linecap="round"/><line x1="291.5" y1="181.2" x2="300.4" y2="178.7" stroke="#a03636" stroke-width="1.7" stroke-opacity="0.46" stroke-linecap="round"/><line x1="313.9" y1="216.2" x2="320.6" y2="214.3" stroke="#b8504a" stroke-width="0.9" stroke-opacity="0.50" stroke-linecap="round"/><line x1="344.9" y1="188.8" x2="352.4" y2="186.7" stroke="#5f7da3" stroke-width="1.1" stroke-opacity="0.45" stroke-linecap="round"/><line x1="365.3" y1="167.4" x2="370.6" y2="165.9" stroke="#cc7068" stroke-width="1.9" stroke-opacity="0.79" stroke-linecap="round"/><line x1="397.4" y1="190.2" x2="401.0" y2="189.2" stroke="#b8504a" stroke-width="1.0" stroke-opacity="0.49" stroke-linecap="round"/><line x1="517.7" y1="153.3" x2="526.1" y2="150.9" stroke="#b8504a" stroke-width="1.8" stroke-opacity="0.09" stroke-linecap="round"/><line x1="403.3" y1="178.9" x2="413.7" y2="176.0" stroke="#b04444" stroke-width="1.0" stroke-opacity="0.41" stroke-linecap="round"/><line x1="484.2" y1="158.1" x2="492.9" y2="155.6" stroke="#b04444" stroke-width="1.9" stroke-opacity="0.41" stroke-linecap="round"/><line x1="379.0" y1="185.1" x2="384.8" y2="183.4" stroke="#b8504a" stroke-width="1.8" stroke-opacity="0.75" stroke-linecap="round"/><line x1="499.5" y1="126.4" x2="504.2" y2="125.1" stroke="#b04444" stroke-width="1.8" stroke-opacity="0.30" stroke-linecap="round"/><line x1="464.4" y1="163.8" x2="470.8" y2="162.0" stroke="#cc7068" stroke-width="1.0" stroke-opacity="0.39" stroke-linecap="round"/><line x1="502.3" y1="165.4" x2="509.6" y2="163.4" stroke="#a03636" stroke-width="1.1" stroke-opacity="0.15" stroke-linecap="round"/><line x1="448.6" y1="167.1" x2="453.7" y2="165.7" stroke="#b04444" stroke-width="1.6" stroke-opacity="0.33" stroke-linecap="round"/><line x1="301.6" y1="214.9" x2="306.0" y2="213.7" stroke="#b8504a" stroke-width="1.4" stroke-opacity="0.76" stroke-linecap="round"/><line x1="329.9" y1="184.3" x2="341.2" y2="181.1" stroke="#b84240" stroke-width="1.1" stroke-opacity="0.52" stroke-linecap="round"/><line x1="344.0" y1="191.4" x2="355.3" y2="188.2" stroke="#a03636" stroke-width="1.9" stroke-opacity="0.36" stroke-linecap="round"/><line x1="481.5" y1="135.9" x2="494.6" y2="132.2" stroke="#cc7068" stroke-width="0.8" stroke-opacity="0.23" stroke-linecap="round"/><line x1="293.9" y1="185.3" x2="300.2" y2="183.5" stroke="#c45a55" stroke-width="1.1" stroke-opacity="0.34" stroke-linecap="round"/><line x1="450.1" y1="142.5" x2="461.8" y2="139.2" stroke="#b84240" stroke-width="1.3" stroke-opacity="0.41" stroke-linecap="round"/><line x1="448.5" y1="139.8" x2="453.2" y2="138.5" stroke="#5f7da3" stroke-width="1.4" stroke-opacity="0.37" stroke-linecap="round"/><line x1="288.6" y1="210.0" x2="293.1" y2="208.8" stroke="#c45a55" stroke-width="1.7" stroke-opacity="0.57" stroke-linecap="round"/><line x1="456.0" y1="149.3" x2="466.3" y2="146.4" stroke="#b84240" stroke-width="1.8" stroke-opacity="0.30" stroke-linecap="round"/><line x1="374.6" y1="162.4" x2="378.7" y2="161.2" stroke="#b84240" stroke-width="1.1" stroke-opacity="0.73" stroke-linecap="round"/><line x1="399.7" y1="163.5" x2="405.4" y2="161.9" stroke="#b84240" stroke-width="1.2" stroke-opacity="0.56" stroke-linecap="round"/><line x1="306.1" y1="193.7" x2="311.4" y2="192.2" stroke="#b04444" stroke-width="1.4" stroke-opacity="0.32" stroke-linecap="round"/><line x1="304.1" y1="179.7" x2="308.3" y2="178.5" stroke="#b8504a" stroke-width="1.6" stroke-opacity="0.28" stroke-linecap="round"/><line x1="330.6" y1="203.0" x2="335.3" y2="201.7" stroke="#b84240" stroke-width="1.5" stroke-opacity="0.40" stroke-linecap="round"/><line x1="288.7" y1="206.4" x2="293.0" y2="205.2" stroke="#b04444" stroke-width="1.5" stroke-opacity="0.62" stroke-linecap="round"/><line x1="485.9" y1="157.4" x2="489.5" y2="156.4" stroke="#cc7068" stroke-width="0.9" stroke-opacity="0.30" stroke-linecap="round"/><line x1="327.6" y1="205.0" x2="332.5" y2="203.6" stroke="#b84240" stroke-width="1.4" stroke-opacity="0.42" stroke-linecap="round"/><line x1="493.1" y1="122.5" x2="506.4" y2="118.7" stroke="#5f7da3" stroke-width="1.7" stroke-opacity="0.26" stroke-linecap="round"/><line x1="296.9" y1="201.3" x2="301.8" y2="199.9" stroke="#b04444" stroke-width="1.9" stroke-opacity="0.69" stroke-linecap="round"/><line x1="458.0" y1="165.1" x2="461.8" y2="164.1" stroke="#5f7da3" stroke-width="1.4" stroke-opacity="0.20" stroke-linecap="round"/><line x1="328.5" y1="171.6" x2="338.1" y2="168.9" stroke="#5f7da3" stroke-width="1.2" stroke-opacity="0.23" stroke-linecap="round"/><line x1="377.7" y1="185.1" x2="391.4" y2="181.2" stroke="#a03636" stroke-width="1.7" stroke-opacity="0.57" stroke-linecap="round"/><line x1="307.5" y1="213.2" x2="320.8" y2="209.5" stroke="#b8504a" stroke-width="1.7" stroke-opacity="0.75" stroke-linecap="round"/><line x1="431.9" y1="147.0" x2="439.1" y2="144.9" stroke="#cc7068" stroke-width="2.0" stroke-opacity="0.60" stroke-linecap="round"/><line x1="425.0" y1="185.6" x2="429.3" y2="184.4" stroke="#c45a55" stroke-width="1.8" stroke-opacity="0.78" stroke-linecap="round"/><line x1="326.4" y1="196.6" x2="335.6" y2="194.0" stroke="#cc7068" stroke-width="1.6" stroke-opacity="0.73" stroke-linecap="round"/><line x1="450.7" y1="152.3" x2="462.3" y2="149.1" stroke="#b8504a" stroke-width="1.2" stroke-opacity="0.69" stroke-linecap="round"/><line x1="381.9" y1="197.9" x2="387.4" y2="196.3" stroke="#c45a55" stroke-width="1.9" stroke-opacity="0.62" stroke-linecap="round"/><line x1="366.4" y1="172.0" x2="372.7" y2="170.2" stroke="#b84240" stroke-width="1.4" stroke-opacity="0.58" stroke-linecap="round"/><line x1="361.7" y1="173.1" x2="366.3" y2="171.8" stroke="#b84240" stroke-width="1.8" stroke-opacity="0.55" stroke-linecap="round"/><line x1="420.4" y1="156.2" x2="424.4" y2="155.1" stroke="#b8504a" stroke-width="1.3" stroke-opacity="0.40" stroke-linecap="round"/><line x1="395.2" y1="160.9" x2="400.6" y2="159.4" stroke="#a03636" stroke-width="1.0" stroke-opacity="0.59" stroke-linecap="round"/><line x1="351.9" y1="206.8" x2="358.9" y2="204.8" stroke="#cc7068" stroke-width="2.0" stroke-opacity="0.37" stroke-linecap="round"/><line x1="333.7" y1="181.9" x2="346.3" y2="178.3" stroke="#cc7068" stroke-width="1.8" stroke-opacity="0.68" stroke-linecap="round"/><line x1="301.6" y1="200.7" x2="304.6" y2="199.9" stroke="#b04444" stroke-width="1.8" stroke-opacity="0.35" stroke-linecap="round"/><line x1="318.8" y1="187.6" x2="322.9" y2="186.5" stroke="#cc7068" stroke-width="1.0" stroke-opacity="0.55" stroke-linecap="round"/><line x1="456.6" y1="144.1" x2="464.2" y2="142.0" stroke="#c45a55" stroke-width="1.9" stroke-opacity="0.53" stroke-linecap="round"/><line x1="364.1" y1="189.4" x2="374.1" y2="186.6" stroke="#cc7068" stroke-width="0.9" stroke-opacity="0.46" stroke-linecap="round"/><line x1="439.5" y1="160.3" x2="450.1" y2="157.3" stroke="#b8504a" stroke-width="1.3" stroke-opacity="0.26" stroke-linecap="round"/><line x1="343.1" y1="188.3" x2="347.8" y2="187.0" stroke="#5f7da3" stroke-width="1.2" stroke-opacity="0.47" stroke-linecap="round"/><line x1="313.7" y1="217.3" x2="326.5" y2="213.7" stroke="#cc7068" stroke-width="1.4" stroke-opacity="0.33" stroke-linecap="round"/><line x1="522.2" y1="121.9" x2="531.6" y2="119.2" stroke="#b8504a" stroke-width="1.1" stroke-opacity="0.24" stroke-linecap="round"/><line x1="405.0" y1="166.6" x2="418.7" y2="162.7" stroke="#b8504a" stroke-width="1.4" stroke-opacity="0.61" stroke-linecap="round"/><line x1="524.0" y1="130.2" x2="536.9" y2="126.5" stroke="#cc7068" stroke-width="0.9" stroke-opacity="0.12" stroke-linecap="round"/><line x1="422.9" y1="183.8" x2="428.1" y2="182.3" stroke="#b84240" stroke-width="1.7" stroke-opacity="0.69" stroke-linecap="round"/><line x1="294.3" y1="192.7" x2="297.9" y2="191.6" stroke="#a03636" stroke-width="1.2" stroke-opacity="0.41" stroke-linecap="round"/><line x1="440.5" y1="149.6" x2="453.3" y2="146.0" stroke="#cc7068" stroke-width="1.3" stroke-opacity="0.51" stroke-linecap="round"/><line x1="274.4" y1="195.9" x2="281.7" y2="193.8" stroke="#a03636" stroke-width="1.0" stroke-opacity="0.46" stroke-linecap="round"/><line x1="509.4" y1="138.5" x2="521.7" y2="135.1" stroke="#5f7da3" stroke-width="1.1" stroke-opacity="0.23" stroke-linecap="round"/><line x1="413.4" y1="175.5" x2="425.7" y2="172.0" stroke="#b84240" stroke-width="1.2" stroke-opacity="0.48" stroke-linecap="round"/><line x1="515.5" y1="140.5" x2="521.6" y2="138.8" stroke="#c45a55" stroke-width="0.8" stroke-opacity="0.23" stroke-linecap="round"/><line x1="414.0" y1="177.1" x2="420.4" y2="175.3" stroke="#c45a55" stroke-width="1.1" stroke-opacity="0.58" stroke-linecap="round"/><line x1="276.5" y1="208.8" x2="287.7" y2="205.6" stroke="#a03636" stroke-width="1.7" stroke-opacity="0.62" stroke-linecap="round"/><line x1="502.7" y1="127.0" x2="507.6" y2="125.7" stroke="#b8504a" stroke-width="1.7" stroke-opacity="0.37" stroke-linecap="round"/><line x1="386.0" y1="196.4" x2="397.1" y2="193.2" stroke="#a03636" stroke-width="1.2" stroke-opacity="0.44" stroke-linecap="round"/><line x1="508.8" y1="151.0" x2="513.4" y2="149.7" stroke="#a03636" stroke-width="1.9" stroke-opacity="0.32" stroke-linecap="round"/><line x1="285.0" y1="196.5" x2="288.8" y2="195.5" stroke="#5f7da3" stroke-width="1.5" stroke-opacity="0.38" stroke-linecap="round"/><line x1="318.1" y1="191.6" x2="323.5" y2="190.1" stroke="#b8504a" stroke-width="1.8" stroke-opacity="0.65" stroke-linecap="round"/><line x1="305.0" y1="206.6" x2="316.3" y2="203.4" stroke="#c45a55" stroke-width="1.7" stroke-opacity="0.53" stroke-linecap="round"/><line x1="493.5" y1="152.3" x2="506.2" y2="148.8" stroke="#b8504a" stroke-width="1.3" stroke-opacity="0.22" stroke-linecap="round"/><line x1="517.7" y1="148.5" x2="529.2" y2="145.2" stroke="#cc7068" stroke-width="1.1" stroke-opacity="0.21" stroke-linecap="round"/><line x1="299.6" y1="180.9" x2="310.0" y2="178.0" stroke="#b84240" stroke-width="1.6" stroke-opacity="0.79" stroke-linecap="round"/><line x1="290.2" y1="218.6" x2="296.7" y2="216.7" stroke="#b8504a" stroke-width="1.3" stroke-opacity="0.25" stroke-linecap="round"/><line x1="418.4" y1="188.9" x2="427.9" y2="186.3" stroke="#5f7da3" stroke-width="1.8" stroke-opacity="0.46" stroke-linecap="round"/><line x1="273.4" y1="194.5" x2="283.3" y2="191.7" stroke="#c45a55" stroke-width="1.1" stroke-opacity="0.44" stroke-linecap="round"/><line x1="426.4" y1="179.3" x2="432.5" y2="177.6" stroke="#cc7068" stroke-width="0.8" stroke-opacity="0.79" stroke-linecap="round"/><line x1="453.5" y1="134.5" x2="462.0" y2="132.0" stroke="#b84240" stroke-width="1.1" stroke-opacity="0.48" stroke-linecap="round"/><line x1="262.4" y1="192.3" x2="269.7" y2="190.2" stroke="#a03636" stroke-width="1.8" stroke-opacity="0.77" stroke-linecap="round"/><line x1="550.0" y1="143.7" x2="563.5" y2="139.9" stroke="#c45a55" stroke-width="1.4" stroke-opacity="0.00" stroke-linecap="round"/><line x1="290.3" y1="200.5" x2="300.8" y2="197.5" stroke="#a03636" stroke-width="1.5" stroke-opacity="0.64" stroke-linecap="round"/></g>
<polygon points="506.0,119.5 543.0,107.6 575.0,103.0 597.0,126.0 592.0,140.0 549.0,151.0 532.0,143.0" fill="url(#hatchX)" opacity="0.95"/>
<line x1="240.0" y1="179.5" x2="548.0" y2="92.4" stroke="#000" stroke-width="2.2" stroke-linecap="round" />
<line x1="240.0" y1="179.5" x2="239.1" y2="193.5" stroke="#000" stroke-width="2.2" stroke-linecap="round" />
<line x1="240.0" y1="179.5" x2="281.7" y2="209.9" stroke="#000" stroke-width="2.2" stroke-linecap="round" />
<line x1="281.7" y1="209.9" x2="281.7" y2="225.3" stroke="#000" stroke-width="2.2" stroke-linecap="round" />
<line x1="281.7" y1="225.3" x2="289.4" y2="229.4" stroke="#000" stroke-width="2.2" stroke-linecap="round" />
<line x1="289.4" y1="229.4" x2="816.7" y2="84.7" stroke="#3d5270" stroke-width="1.7" stroke-linecap="round" />
<line x1="411.0" y1="190.0" x2="417.5" y2="194.1" stroke="#000" stroke-width="2.4" stroke-linecap="round" />
<line x1="546.8" y1="153.5" x2="553.3" y2="156.8" stroke="#000" stroke-width="2.4" stroke-linecap="round" />
<line x1="668.1" y1="119.0" x2="675.4" y2="122.7" stroke="#000" stroke-width="2.4" stroke-linecap="round" />
<line x1="809.8" y1="80.8" x2="816.7" y2="84.7" stroke="#000" stroke-width="2.4" stroke-linecap="round" />
<polygon points="756.4,2.5 806.8,37.9 806.8,79.8 756.4,45.0" fill="#f35ae6" stroke="#000" stroke-width="1.6" stroke-linejoin="round" />
<line x1="806.8" y1="56.8" x2="811.3" y2="58.8" stroke="#000" stroke-width="2.0" stroke-linecap="round" />
<line x1="811.3" y1="58.8" x2="811.3" y2="76.8" stroke="#000" stroke-width="2.0" stroke-linecap="round" />
<polygon points="555.4,59.5 604.4,93.9 603.9,136.6 555.4,102.5" fill="#8b8c8f" />
<polygon points="555.4,59.5 748.0,6.5 797.8,41.9 604.4,93.9" fill="#808080" />
<polygon points="594.4,88.4 793.8,36.9 797.8,41.9 604.4,93.9" fill="url(#hatchG)" />
<polygon points="604.4,93.9 797.8,41.9 797.8,82.8 603.9,136.6" fill="url(#hatchG)" />
<line x1="575.0" y1="82.5" x2="760.0" y2="33.0" stroke="#8d7a78" stroke-width="1.0" stroke-linecap="round" />
<line x1="590.0" y1="80.8" x2="780.0" y2="30.5" stroke="#857674" stroke-width="0.8" stroke-linecap="round" />
<line x1="749.0" y1="7.0" x2="749.0" y2="47.0" stroke="#9a9a9a" stroke-width="1.0" stroke-linecap="round" />
<polygon points="748.0,6.5 797.8,41.9 797.8,82.8 748.0,47.0" fill="#a87aa0" opacity="0.2"/>
<line x1="748.0" y1="47.0" x2="797.8" y2="82.8" stroke="#6f6f6f" stroke-width="1.0" stroke-linecap="round" />
<line x1="555.4" y1="59.5" x2="748.0" y2="6.5" stroke="#000" stroke-width="2.6" stroke-linecap="round" />
<line x1="748.0" y1="6.5" x2="797.8" y2="41.9" stroke="#000" stroke-width="2.6" stroke-linecap="round" />
<line x1="555.4" y1="59.5" x2="604.4" y2="93.9" stroke="#000" stroke-width="2.6" stroke-linecap="round" />
<line x1="604.4" y1="93.9" x2="797.8" y2="41.9" stroke="#000" stroke-width="2.6" stroke-linecap="round" />
<line x1="604.4" y1="93.9" x2="603.9" y2="136.6" stroke="#000" stroke-width="2.6" stroke-linecap="round" />
<line x1="797.8" y1="41.9" x2="797.8" y2="82.8" stroke="#000" stroke-width="2.6" stroke-linecap="round" />
<line x1="603.9" y1="136.6" x2="797.8" y2="82.8" stroke="#000" stroke-width="2.6" stroke-linecap="round" />
<line x1="555.4" y1="59.5" x2="555.4" y2="66.0" stroke="#000" stroke-width="2.4" stroke-linecap="round" />
<polygon points="546.8,63.6 596.1,97.6 596.1,140.4 546.8,106.4" fill="#1fe01f" stroke="#000" stroke-width="1.5" stroke-linejoin="round" fill-opacity="0.93"/>
<polygon points="547.5,64.5 553.9,68.5 553.9,101.7 547.5,105.5" fill="#4ef04e" />
<polygon points="553.9,101.7 595.4,122.2 595.4,139.4 548.0,106.8" fill="#3cec3c" />
<line x1="553.9" y1="66.5" x2="553.9" y2="101.7" stroke="#12a012" stroke-width="1.4" stroke-linecap="round" />
<line x1="553.9" y1="101.7" x2="596.1" y2="122.0" stroke="#12a012" stroke-width="1.4" stroke-linecap="round" />
<line x1="281.7" y1="209.9" x2="808.8" y2="60.8" stroke="#000" stroke-width="2.2" stroke-linecap="round" />
<line x1="458.0" y1="67.8" x2="634.5" y2="16.0" stroke="#000" stroke-width="2.3" stroke-linecap="round" />
<line x1="634.5" y1="16.0" x2="618.5" y2="12.4" stroke="#000" stroke-width="2.3" stroke-linecap="round" />
<line x1="634.5" y1="16.0" x2="623.1" y2="27.9" stroke="#000" stroke-width="2.3" stroke-linecap="round" />
<g font-size="25.5">
<text x="283.5" y="255.6" text-anchor="middle">−12</text>
<text x="410.7" y="222.6" text-anchor="middle">−6</text>
<text x="559" y="185.6" text-anchor="middle">0</text>
<text x="679" y="148.8" text-anchor="middle">6</text>
<text x="823" y="111.6" text-anchor="middle">12</text>
</g>
<text transform="translate(514.5,233) rotate(-14.5)" font-size="32"><tspan>(</tspan><tspan font-style="italic">x</tspan><tspan dx="6">−</tspan><tspan dx="6" font-style="italic">x</tspan><tspan font-size="21" dy="3">SR</tspan><tspan dy="-3">)</tspan><tspan font-size="38" dy="4">/</tspan><tspan dy="-4" font-style="italic">h</tspan></text>
<line x1="184.80" y1="331.20" x2="184.80" y2="592.60" stroke="#dedede" stroke-width="1.5"/>
<line x1="268.60" y1="331.20" x2="268.60" y2="592.60" stroke="#dedede" stroke-width="1.5"/>
<line x1="352.40" y1="331.20" x2="352.40" y2="592.60" stroke="#dedede" stroke-width="1.5"/>
<line x1="436.20" y1="331.20" x2="436.20" y2="592.60" stroke="#dedede" stroke-width="1.5"/>
<line x1="101.00" y1="505.47" x2="520.00" y2="505.47" stroke="#dedede" stroke-width="1.5"/>
<line x1="101.00" y1="418.33" x2="520.00" y2="418.33" stroke="#dedede" stroke-width="1.5"/>
<line x1="751.62" y1="329.60" x2="751.62" y2="593.70" stroke="#dedede" stroke-width="1.5"/>
<line x1="835.34" y1="329.60" x2="835.34" y2="593.70" stroke="#dedede" stroke-width="1.5"/>
<line x1="919.06" y1="329.60" x2="919.06" y2="593.70" stroke="#dedede" stroke-width="1.5"/>
<line x1="1002.78" y1="329.60" x2="1002.78" y2="593.70" stroke="#dedede" stroke-width="1.5"/>
<line x1="667.90" y1="505.67" x2="1086.50" y2="505.67" stroke="#dedede" stroke-width="1.5"/>
<line x1="667.90" y1="417.63" x2="1086.50" y2="417.63" stroke="#dedede" stroke-width="1.5"/>
<line x1="160.15" y1="718.70" x2="160.15" y2="981.20" stroke="#b4b4b4" stroke-width="1.1" stroke-dasharray="1.4 1.7"/>
<line x1="197.03" y1="718.70" x2="197.03" y2="981.20" stroke="#b4b4b4" stroke-width="1.1" stroke-dasharray="1.4 1.7"/>
<line x1="223.20" y1="718.70" x2="223.20" y2="981.20" stroke="#b4b4b4" stroke-width="1.1" stroke-dasharray="1.4 1.7"/>
<line x1="243.50" y1="718.70" x2="243.50" y2="981.20" stroke="#b4b4b4" stroke-width="1.1" stroke-dasharray="1.4 1.7"/>
<line x1="260.08" y1="718.70" x2="260.08" y2="981.20" stroke="#b4b4b4" stroke-width="1.1" stroke-dasharray="1.4 1.7"/>
<line x1="274.11" y1="718.70" x2="274.11" y2="981.20" stroke="#b4b4b4" stroke-width="1.1" stroke-dasharray="1.4 1.7"/>
<line x1="286.25" y1="718.70" x2="286.25" y2="981.20" stroke="#b4b4b4" stroke-width="1.1" stroke-dasharray="1.4 1.7"/>
<line x1="296.97" y1="718.70" x2="296.97" y2="981.20" stroke="#b4b4b4" stroke-width="1.1" stroke-dasharray="1.4 1.7"/>
<line x1="369.60" y1="718.70" x2="369.60" y2="981.20" stroke="#b4b4b4" stroke-width="1.1" stroke-dasharray="1.4 1.7"/>
<line x1="406.48" y1="718.70" x2="406.48" y2="981.20" stroke="#b4b4b4" stroke-width="1.1" stroke-dasharray="1.4 1.7"/>
<line x1="432.65" y1="718.70" x2="432.65" y2="981.20" stroke="#b4b4b4" stroke-width="1.1" stroke-dasharray="1.4 1.7"/>
<line x1="452.95" y1="718.70" x2="452.95" y2="981.20" stroke="#b4b4b4" stroke-width="1.1" stroke-dasharray="1.4 1.7"/>
<line x1="469.53" y1="718.70" x2="469.53" y2="981.20" stroke="#b4b4b4" stroke-width="1.1" stroke-dasharray="1.4 1.7"/>
<line x1="483.56" y1="718.70" x2="483.56" y2="981.20" stroke="#b4b4b4" stroke-width="1.1" stroke-dasharray="1.4 1.7"/>
<line x1="495.70" y1="718.70" x2="495.70" y2="981.20" stroke="#b4b4b4" stroke-width="1.1" stroke-dasharray="1.4 1.7"/>
<line x1="506.42" y1="718.70" x2="506.42" y2="981.20" stroke="#b4b4b4" stroke-width="1.1" stroke-dasharray="1.4 1.7"/>
<line x1="306.55" y1="718.70" x2="306.55" y2="981.20" stroke="#dedede" stroke-width="1.5"/>
<line x1="97.10" y1="893.70" x2="516.00" y2="893.70" stroke="#dedede" stroke-width="1.5"/>
<line x1="97.10" y1="806.20" x2="516.00" y2="806.20" stroke="#dedede" stroke-width="1.5"/>
<line x1="727.13" y1="717.50" x2="727.13" y2="981.70" stroke="#b4b4b4" stroke-width="1.1" stroke-dasharray="1.4 1.7"/>
<line x1="763.83" y1="717.50" x2="763.83" y2="981.70" stroke="#b4b4b4" stroke-width="1.1" stroke-dasharray="1.4 1.7"/>
<line x1="789.87" y1="717.50" x2="789.87" y2="981.70" stroke="#b4b4b4" stroke-width="1.1" stroke-dasharray="1.4 1.7"/>
<line x1="810.07" y1="717.50" x2="810.07" y2="981.70" stroke="#b4b4b4" stroke-width="1.1" stroke-dasharray="1.4 1.7"/>
<line x1="826.57" y1="717.50" x2="826.57" y2="981.70" stroke="#b4b4b4" stroke-width="1.1" stroke-dasharray="1.4 1.7"/>
<line x1="840.52" y1="717.50" x2="840.52" y2="981.70" stroke="#b4b4b4" stroke-width="1.1" stroke-dasharray="1.4 1.7"/>
<line x1="852.60" y1="717.50" x2="852.60" y2="981.70" stroke="#b4b4b4" stroke-width="1.1" stroke-dasharray="1.4 1.7"/>
<line x1="863.26" y1="717.50" x2="863.26" y2="981.70" stroke="#b4b4b4" stroke-width="1.1" stroke-dasharray="1.4 1.7"/>
<line x1="935.53" y1="717.50" x2="935.53" y2="981.70" stroke="#b4b4b4" stroke-width="1.1" stroke-dasharray="1.4 1.7"/>
<line x1="972.23" y1="717.50" x2="972.23" y2="981.70" stroke="#b4b4b4" stroke-width="1.1" stroke-dasharray="1.4 1.7"/>
<line x1="998.27" y1="717.50" x2="998.27" y2="981.70" stroke="#b4b4b4" stroke-width="1.1" stroke-dasharray="1.4 1.7"/>
<line x1="1018.47" y1="717.50" x2="1018.47" y2="981.70" stroke="#b4b4b4" stroke-width="1.1" stroke-dasharray="1.4 1.7"/>
<line x1="1034.97" y1="717.50" x2="1034.97" y2="981.70" stroke="#b4b4b4" stroke-width="1.1" stroke-dasharray="1.4 1.7"/>
<line x1="1048.92" y1="717.50" x2="1048.92" y2="981.70" stroke="#b4b4b4" stroke-width="1.1" stroke-dasharray="1.4 1.7"/>
<line x1="1061.00" y1="717.50" x2="1061.00" y2="981.70" stroke="#b4b4b4" stroke-width="1.1" stroke-dasharray="1.4 1.7"/>
<line x1="1071.66" y1="717.50" x2="1071.66" y2="981.70" stroke="#b4b4b4" stroke-width="1.1" stroke-dasharray="1.4 1.7"/>
<line x1="872.80" y1="717.50" x2="872.80" y2="981.70" stroke="#dedede" stroke-width="1.5"/>
<line x1="664.40" y1="915.65" x2="1081.20" y2="915.65" stroke="#dedede" stroke-width="1.5"/>
<line x1="664.40" y1="849.60" x2="1081.20" y2="849.60" stroke="#dedede" stroke-width="1.5"/>
<line x1="664.40" y1="783.55" x2="1081.20" y2="783.55" stroke="#dedede" stroke-width="1.5"/>
<line x1="158.07" y1="1107.80" x2="158.07" y2="1370.00" stroke="#b4b4b4" stroke-width="1.1" stroke-dasharray="1.4 1.7"/>
<line x1="194.96" y1="1107.80" x2="194.96" y2="1370.00" stroke="#b4b4b4" stroke-width="1.1" stroke-dasharray="1.4 1.7"/>
<line x1="221.13" y1="1107.80" x2="221.13" y2="1370.00" stroke="#b4b4b4" stroke-width="1.1" stroke-dasharray="1.4 1.7"/>
<line x1="241.43" y1="1107.80" x2="241.43" y2="1370.00" stroke="#b4b4b4" stroke-width="1.1" stroke-dasharray="1.4 1.7"/>
<line x1="258.02" y1="1107.80" x2="258.02" y2="1370.00" stroke="#b4b4b4" stroke-width="1.1" stroke-dasharray="1.4 1.7"/>
<line x1="272.05" y1="1107.80" x2="272.05" y2="1370.00" stroke="#b4b4b4" stroke-width="1.1" stroke-dasharray="1.4 1.7"/>
<line x1="284.20" y1="1107.80" x2="284.20" y2="1370.00" stroke="#b4b4b4" stroke-width="1.1" stroke-dasharray="1.4 1.7"/>
<line x1="294.91" y1="1107.80" x2="294.91" y2="1370.00" stroke="#b4b4b4" stroke-width="1.1" stroke-dasharray="1.4 1.7"/>
<line x1="367.57" y1="1107.80" x2="367.57" y2="1370.00" stroke="#b4b4b4" stroke-width="1.1" stroke-dasharray="1.4 1.7"/>
<line x1="404.46" y1="1107.80" x2="404.46" y2="1370.00" stroke="#b4b4b4" stroke-width="1.1" stroke-dasharray="1.4 1.7"/>
<line x1="430.63" y1="1107.80" x2="430.63" y2="1370.00" stroke="#b4b4b4" stroke-width="1.1" stroke-dasharray="1.4 1.7"/>
<line x1="450.93" y1="1107.80" x2="450.93" y2="1370.00" stroke="#b4b4b4" stroke-width="1.1" stroke-dasharray="1.4 1.7"/>
<line x1="467.52" y1="1107.80" x2="467.52" y2="1370.00" stroke="#b4b4b4" stroke-width="1.1" stroke-dasharray="1.4 1.7"/>
<line x1="481.55" y1="1107.80" x2="481.55" y2="1370.00" stroke="#b4b4b4" stroke-width="1.1" stroke-dasharray="1.4 1.7"/>
<line x1="493.70" y1="1107.80" x2="493.70" y2="1370.00" stroke="#b4b4b4" stroke-width="1.1" stroke-dasharray="1.4 1.7"/>
<line x1="504.41" y1="1107.80" x2="504.41" y2="1370.00" stroke="#b4b4b4" stroke-width="1.1" stroke-dasharray="1.4 1.7"/>
<line x1="304.50" y1="1107.80" x2="304.50" y2="1370.00" stroke="#dedede" stroke-width="1.5"/>
<line x1="95.00" y1="1304.45" x2="514.00" y2="1304.45" stroke="#dedede" stroke-width="1.5"/>
<line x1="95.00" y1="1238.90" x2="514.00" y2="1238.90" stroke="#dedede" stroke-width="1.5"/>
<line x1="95.00" y1="1173.35" x2="514.00" y2="1173.35" stroke="#dedede" stroke-width="1.5"/>
<line x1="726.96" y1="1106.80" x2="726.96" y2="1369.50" stroke="#b4b4b4" stroke-width="1.1" stroke-dasharray="1.4 1.7"/>
<line x1="763.68" y1="1106.80" x2="763.68" y2="1369.50" stroke="#b4b4b4" stroke-width="1.1" stroke-dasharray="1.4 1.7"/>
<line x1="789.73" y1="1106.80" x2="789.73" y2="1369.50" stroke="#b4b4b4" stroke-width="1.1" stroke-dasharray="1.4 1.7"/>
<line x1="809.94" y1="1106.80" x2="809.94" y2="1369.50" stroke="#b4b4b4" stroke-width="1.1" stroke-dasharray="1.4 1.7"/>
<line x1="826.44" y1="1106.80" x2="826.44" y2="1369.50" stroke="#b4b4b4" stroke-width="1.1" stroke-dasharray="1.4 1.7"/>
<line x1="840.40" y1="1106.80" x2="840.40" y2="1369.50" stroke="#b4b4b4" stroke-width="1.1" stroke-dasharray="1.4 1.7"/>
<line x1="852.49" y1="1106.80" x2="852.49" y2="1369.50" stroke="#b4b4b4" stroke-width="1.1" stroke-dasharray="1.4 1.7"/>
<line x1="863.16" y1="1106.80" x2="863.16" y2="1369.50" stroke="#b4b4b4" stroke-width="1.1" stroke-dasharray="1.4 1.7"/>
<line x1="935.46" y1="1106.80" x2="935.46" y2="1369.50" stroke="#b4b4b4" stroke-width="1.1" stroke-dasharray="1.4 1.7"/>
<line x1="972.18" y1="1106.80" x2="972.18" y2="1369.50" stroke="#b4b4b4" stroke-width="1.1" stroke-dasharray="1.4 1.7"/>
<line x1="998.23" y1="1106.80" x2="998.23" y2="1369.50" stroke="#b4b4b4" stroke-width="1.1" stroke-dasharray="1.4 1.7"/>
<line x1="1018.44" y1="1106.80" x2="1018.44" y2="1369.50" stroke="#b4b4b4" stroke-width="1.1" stroke-dasharray="1.4 1.7"/>
<line x1="1034.94" y1="1106.80" x2="1034.94" y2="1369.50" stroke="#b4b4b4" stroke-width="1.1" stroke-dasharray="1.4 1.7"/>
<line x1="1048.90" y1="1106.80" x2="1048.90" y2="1369.50" stroke="#b4b4b4" stroke-width="1.1" stroke-dasharray="1.4 1.7"/>
<line x1="1060.99" y1="1106.80" x2="1060.99" y2="1369.50" stroke="#b4b4b4" stroke-width="1.1" stroke-dasharray="1.4 1.7"/>
<line x1="1071.66" y1="1106.80" x2="1071.66" y2="1369.50" stroke="#b4b4b4" stroke-width="1.1" stroke-dasharray="1.4 1.7"/>
<line x1="872.70" y1="1106.80" x2="872.70" y2="1369.50" stroke="#dedede" stroke-width="1.5"/>
<line x1="664.20" y1="1303.83" x2="1081.20" y2="1303.83" stroke="#dedede" stroke-width="1.5"/>
<line x1="664.20" y1="1238.15" x2="1081.20" y2="1238.15" stroke="#dedede" stroke-width="1.5"/>
<line x1="664.20" y1="1172.47" x2="1081.20" y2="1172.47" stroke="#dedede" stroke-width="1.5"/>
<line x1="124.1" y1="332.2" x2="124.1" y2="592" stroke="#000" stroke-width="2.3" stroke-dasharray="6.2 6.1" stroke-dashoffset="-6"/>
<g fill="none" stroke="#000" stroke-width="1.85"><circle cx="100.20" cy="582.00" r="3.0"/><circle cx="101.38" cy="578.18" r="3.0"/><circle cx="102.56" cy="574.36" r="3.0"/><circle cx="103.74" cy="570.53" r="3.0"/><circle cx="104.92" cy="566.71" r="3.0"/><circle cx="106.10" cy="562.89" r="3.0"/><circle cx="107.29" cy="559.07" r="3.0"/><circle cx="108.47" cy="555.25" r="3.0"/><circle cx="109.66" cy="551.43" r="3.0"/><circle cx="110.85" cy="547.61" r="3.0"/><circle cx="112.04" cy="543.79" r="3.0"/><circle cx="113.23" cy="539.97" r="3.0"/><circle cx="114.75" cy="536.28" r="3.0"/><circle cx="116.37" cy="532.62" r="3.0"/><circle cx="117.99" cy="528.96" r="3.0"/><circle cx="119.60" cy="525.30" r="3.0"/><circle cx="121.23" cy="521.65" r="3.0"/><circle cx="122.86" cy="518.00" r="3.0"/><circle cx="124.49" cy="514.35" r="3.0"/><circle cx="126.07" cy="510.67" r="3.0"/><circle cx="127.26" cy="506.85" r="3.0"/><circle cx="128.46" cy="503.04" r="3.0"/><circle cx="129.65" cy="499.22" r="3.0"/><circle cx="131.20" cy="495.54" r="3.0"/><circle cx="132.95" cy="491.95" r="3.0"/><circle cx="135.80" cy="486.10" r="3.0"/><circle cx="140.70" cy="481.20" r="3.0"/><circle cx="146.40" cy="476.50" r="3.0"/><circle cx="152.30" cy="473.40" r="3.0"/><circle cx="157.70" cy="468.90" r="3.0"/><circle cx="162.70" cy="464.80" r="3.0"/><circle cx="168.10" cy="460.30" r="3.0"/><circle cx="174.00" cy="455.80" r="3.0"/><circle cx="181.30" cy="451.70" r="3.0"/><circle cx="189.00" cy="447.10" r="3.0"/><circle cx="197.60" cy="442.60" r="3.0"/><circle cx="207.30" cy="438.10" r="3.0"/><circle cx="217.80" cy="433.70" r="3.0"/><circle cx="229.30" cy="429.00" r="3.0"/><circle cx="242.20" cy="424.00" r="3.0"/><circle cx="255.90" cy="419.40" r="3.0"/><circle cx="270.80" cy="414.40" r="3.0"/><circle cx="286.70" cy="409.90" r="3.0"/><circle cx="303.90" cy="405.80" r="3.0"/><circle cx="322.00" cy="401.30" r="3.0"/><circle cx="341.70" cy="395.80" r="3.0"/><circle cx="362.10" cy="391.20" r="3.0"/><circle cx="383.70" cy="387.10" r="3.0"/><circle cx="405.80" cy="383.20" r="3.0"/><circle cx="429.40" cy="380.10" r="3.0"/><circle cx="452.90" cy="377.20" r="3.0"/><circle cx="477.40" cy="374.80" r="3.0"/><circle cx="502.20" cy="372.40" r="3.0"/></g>
<path d="M100.40 582.90 C100.93 579.82 102.23 570.15 103.60 564.40 C104.97 558.65 106.60 553.90 108.60 548.40 C110.60 542.90 113.47 536.73 115.60 531.40 C117.73 526.07 119.83 521.07 121.40 516.40 C122.97 511.73 123.68 506.87 125.00 503.40 C126.32 499.93 127.17 498.85 129.30 495.60 C131.43 492.35 134.22 488.12 137.80 483.90 C141.38 479.68 145.62 475.43 150.80 470.30 C155.98 465.17 162.85 457.93 168.90 453.10 C174.95 448.27 181.05 444.93 187.10 441.30 C193.15 437.67 199.17 434.32 205.20 431.30 C211.23 428.28 217.37 425.58 223.30 423.20 C229.23 420.82 233.35 419.28 240.80 417.00 C248.25 414.72 258.93 411.67 268.00 409.50 C277.07 407.33 286.13 405.67 295.20 404.00 C304.27 402.33 314.80 400.68 322.40 399.50 C330.00 398.32 332.73 397.95 340.80 396.90 C348.87 395.85 360.80 394.37 370.80 393.20 C380.80 392.03 389.70 391.00 400.80 389.90 C411.90 388.80 424.07 387.55 437.40 386.60 C450.73 385.65 467.38 384.93 480.80 384.20 C494.22 383.47 511.72 382.53 517.90 382.20" fill="none" stroke="#000" stroke-width="2.05" stroke-linecap="round" stroke-linejoin="round"/>
<path d="M99.60 581.50 C100.13 578.42 101.43 568.75 102.80 563.00 C104.17 557.25 105.80 552.50 107.80 547.00 C109.80 541.50 112.67 535.33 114.80 530.00 C116.93 524.67 119.03 519.67 120.60 515.00 C122.17 510.33 122.88 505.47 124.20 502.00 C125.52 498.53 126.37 497.45 128.50 494.20 C130.63 490.95 133.42 486.72 137.00 482.50 C140.58 478.28 144.82 474.03 150.00 468.90 C155.18 463.77 162.05 456.53 168.10 451.70 C174.15 446.87 180.25 443.53 186.30 439.90 C192.35 436.27 198.37 432.92 204.40 429.90 C210.43 426.88 216.57 424.18 222.50 421.80 C228.43 419.42 232.55 417.88 240.00 415.60 C247.45 413.32 258.13 410.27 267.20 408.10 C276.27 405.93 285.33 404.27 294.40 402.60 C303.47 400.93 314.00 399.28 321.60 398.10 C329.20 396.92 331.93 396.55 340.00 395.50 C348.07 394.45 360.00 392.97 370.00 391.80 C380.00 390.63 388.90 389.60 400.00 388.50 C411.10 387.40 423.27 386.15 436.60 385.20 C449.93 384.25 466.58 383.53 480.00 382.80 C493.42 382.07 510.92 381.13 517.10 380.80" fill="none" stroke="#000" stroke-width="2.05" stroke-linecap="round" stroke-linejoin="round"/>
<path d="M100.10 582.20 C100.63 579.12 101.93 569.45 103.30 563.70 C104.67 557.95 106.30 553.20 108.30 547.70 C110.30 542.20 113.17 536.03 115.30 530.70 C117.43 525.37 119.53 520.37 121.10 515.70 C122.67 511.03 123.38 506.17 124.70 502.70 C126.02 499.23 126.87 498.15 129.00 494.90 C131.13 491.65 133.92 487.42 137.50 483.20 C141.08 478.98 145.32 474.73 150.50 469.60 C155.68 464.47 165.58 455.27 168.60 452.40" fill="none" stroke="#000" stroke-width="2.05" stroke-linecap="round" stroke-linejoin="round"/>
<path d="M100.10 582.40 C100.80 579.30 102.75 569.65 104.30 563.80 C105.85 557.95 107.35 552.80 109.40 547.30 C111.45 541.80 114.45 536.13 116.60 530.80 C118.75 525.47 120.75 520.18 122.30 515.30 C123.85 510.42 124.60 505.55 125.90 501.50 C127.20 497.45 128.18 494.50 130.10 491.00 C132.02 487.50 134.08 484.78 137.40 480.50 C140.72 476.22 144.88 470.87 150.00 465.30 C155.12 459.73 162.05 452.08 168.10 447.10 C174.15 442.12 180.25 438.87 186.30 435.40 C192.35 431.93 198.37 429.10 204.40 426.30 C210.43 423.50 216.57 420.68 222.50 418.60 C228.43 416.52 232.55 415.53 240.00 413.80 C247.45 412.07 258.13 409.90 267.20 408.20 C276.27 406.50 285.33 404.93 294.40 403.60 C303.47 402.27 311.92 401.42 321.60 400.20 C331.28 398.98 339.43 397.75 352.50 396.30 C365.57 394.85 385.98 392.95 400.00 391.50 C414.02 390.05 423.27 388.68 436.60 387.60 C449.93 386.52 466.58 385.80 480.00 385.00 C493.42 384.20 510.92 383.17 517.10 382.80" fill="none" stroke="#00e600" stroke-width="2.05" stroke-linecap="round" stroke-linejoin="round"/>
<path d="M100.60 582.40 C101.73 578.45 105.25 565.92 107.40 558.70 C109.55 551.48 111.27 545.12 113.50 539.10 C115.73 533.08 118.73 527.25 120.80 522.60 C122.87 517.95 124.35 515.33 125.90 511.20 C127.45 507.07 128.55 501.42 130.10 497.80 C131.65 494.18 133.05 492.47 135.20 489.50 C137.35 486.53 140.53 482.83 143.00 480.00 C145.47 477.17 145.82 476.17 150.00 472.50 C154.18 468.83 162.05 462.68 168.10 458.00 C174.15 453.32 180.25 448.10 186.30 444.40 C192.35 440.70 198.37 438.58 204.40 435.80 C210.43 433.02 216.57 430.35 222.50 427.70 C228.43 425.05 232.55 422.72 240.00 419.90 C247.45 417.08 258.13 413.53 267.20 410.80 C276.27 408.07 285.33 405.62 294.40 403.50 C303.47 401.38 314.00 399.58 321.60 398.10 C329.20 396.62 331.93 395.87 340.00 394.60 C348.07 393.33 360.00 391.85 370.00 390.50 C380.00 389.15 388.90 387.75 400.00 386.50 C411.10 385.25 423.27 383.98 436.60 383.00 C449.93 382.02 466.58 381.28 480.00 380.60 C493.42 379.92 510.92 379.18 517.10 378.90" fill="none" stroke="#ee00ee" stroke-width="2.0" stroke-linecap="round" stroke-linejoin="round" stroke-dasharray="4.2 3.2 1.8 3.2"/>
<line x1="691.4" y1="331.2" x2="691.4" y2="593" stroke="#000" stroke-width="2.3" stroke-dasharray="6.2 6.1" stroke-dashoffset="-6"/>
<g fill="none" stroke="#000" stroke-width="1.85"><circle cx="667.70" cy="474.30" r="3.0"/><circle cx="669.00" cy="459.40" r="3.0"/><circle cx="670.10" cy="442.90" r="3.0"/><circle cx="671.90" cy="428.40" r="3.0"/><circle cx="673.20" cy="416.30" r="3.0"/><circle cx="674.10" cy="406.00" r="3.0"/><circle cx="676.00" cy="397.80" r="3.0"/><circle cx="677.10" cy="391.10" r="3.0"/><circle cx="678.90" cy="385.60" r="3.0"/><circle cx="680.40" cy="381.20" r="3.0"/><circle cx="682.00" cy="377.90" r="3.0"/><circle cx="683.70" cy="381.20" r="3.0"/><circle cx="685.90" cy="386.70" r="3.0"/><circle cx="687.50" cy="392.80" r="3.0"/><circle cx="689.20" cy="401.60" r="3.0"/><circle cx="690.80" cy="412.10" r="3.0"/><circle cx="691.90" cy="420.30" r="3.0"/><circle cx="693.00" cy="426.40" r="3.0"/><circle cx="695.20" cy="430.80" r="3.0"/><circle cx="698.50" cy="435.20" r="3.0"/><circle cx="702.90" cy="439.00" r="3.0"/><circle cx="707.30" cy="441.60" r="3.0"/><circle cx="712.80" cy="443.40" r="3.0"/><circle cx="718.40" cy="445.60" r="3.0"/><circle cx="723.30" cy="446.70" r="3.0"/><circle cx="728.80" cy="447.80" r="3.0"/><circle cx="734.90" cy="449.00" r="3.0"/><circle cx="740.90" cy="450.00" r="3.0"/><circle cx="748.10" cy="451.20" r="3.0"/><circle cx="755.80" cy="452.80" r="3.0"/><circle cx="764.50" cy="454.50" r="3.0"/><circle cx="774.40" cy="456.30" r="3.0"/><circle cx="784.80" cy="458.90" r="3.0"/><circle cx="795.90" cy="461.90" r="3.0"/><circle cx="808.80" cy="464.30" r="3.0"/><circle cx="822.20" cy="467.30" r="3.0"/><circle cx="837.20" cy="471.20" r="3.0"/><circle cx="853.40" cy="475.40" r="3.0"/><circle cx="870.70" cy="480.20" r="3.0"/><circle cx="888.70" cy="485.30" r="3.0"/><circle cx="908.10" cy="489.80" r="3.0"/><circle cx="929.10" cy="494.90" r="3.0"/><circle cx="950.30" cy="500.20" r="3.0"/><circle cx="972.40" cy="505.90" r="3.0"/><circle cx="995.80" cy="511.90" r="3.0"/><circle cx="1019.70" cy="517.30" r="3.0"/><circle cx="1044.30" cy="522.70" r="3.0"/><circle cx="1068.80" cy="526.00" r="3.0"/></g>
<path d="M668.00 480.00 C668.17 476.33 668.62 466.33 669.00 458.00 C669.38 449.67 669.80 438.83 670.30 430.00 C670.80 421.17 671.38 412.50 672.00 405.00 C672.62 397.50 673.25 390.50 674.00 385.00 C674.75 379.50 675.58 375.50 676.50 372.00 C677.42 368.50 678.58 365.58 679.50 364.00 C680.42 362.42 681.17 362.42 682.00 362.50 C682.83 362.58 683.77 363.03 684.50 364.50 C685.23 365.97 685.53 367.05 686.40 371.30 C687.27 375.55 688.78 383.55 689.70 390.00 C690.62 396.45 690.98 404.28 691.90 410.00 C692.82 415.72 693.55 420.08 695.20 424.30 C696.85 428.52 699.42 432.47 701.80 435.30 C704.18 438.13 706.37 439.47 709.50 441.30 C712.63 443.13 716.00 443.93 720.60 446.30 C725.20 448.67 731.60 452.63 737.10 455.50 C742.60 458.37 748.10 460.75 753.60 463.50 C759.10 466.25 764.05 469.37 770.10 472.00 C776.15 474.63 781.62 476.08 789.90 479.30 C798.18 482.52 809.82 487.57 819.80 491.30 C829.78 495.03 839.82 498.72 849.80 501.70 C859.78 504.68 869.73 507.20 879.70 509.20 C889.67 511.20 899.63 512.20 909.60 513.70 C919.57 515.20 929.52 516.82 939.50 518.20 C949.48 519.58 959.52 520.62 969.50 522.00 C979.48 523.38 989.43 525.12 999.40 526.50 C1009.37 527.88 1019.33 529.22 1029.30 530.30 C1039.27 531.38 1052.08 532.45 1059.20 533.00 C1066.32 533.55 1067.62 534.07 1072.00 533.60 C1076.38 533.13 1083.25 530.77 1085.50 530.20" fill="none" stroke="#000" stroke-width="2.05" stroke-linecap="round" stroke-linejoin="round"/>
<path d="M668.00 480.00 C668.17 476.33 668.62 466.33 669.00 458.00 C669.38 449.67 669.80 438.83 670.30 430.00 C670.80 421.17 671.38 412.50 672.00 405.00 C672.62 397.50 673.25 390.50 674.00 385.00 C674.75 379.50 675.58 375.50 676.50 372.00 C677.42 368.50 678.58 365.58 679.50 364.00 C680.42 362.42 681.17 362.42 682.00 362.50 C682.83 362.58 683.77 363.03 684.50 364.50 C685.23 365.97 685.53 367.05 686.40 371.30 C687.27 375.55 688.78 383.55 689.70 390.00 C690.62 396.45 690.98 404.28 691.90 410.00 C692.82 415.72 693.55 420.08 695.20 424.30 C696.85 428.52 699.42 432.47 701.80 435.30 C704.18 438.13 706.37 439.47 709.50 441.30 C712.63 443.13 716.00 444.27 720.60 446.30 C725.20 448.33 731.60 451.30 737.10 453.50 C742.60 455.70 748.10 457.42 753.60 459.50 C759.10 461.58 764.05 463.95 770.10 466.00 C776.15 468.05 781.62 469.08 789.90 471.80 C798.18 474.52 809.82 478.55 819.80 482.30 C829.78 486.05 839.82 490.57 849.80 494.30 C859.78 498.03 869.73 501.72 879.70 504.70 C889.67 507.68 899.63 510.05 909.60 512.20 C919.57 514.35 929.52 515.97 939.50 517.60 C949.48 519.23 959.52 520.52 969.50 522.00 C979.48 523.48 989.43 525.12 999.40 526.50 C1009.37 527.88 1019.33 529.22 1029.30 530.30 C1039.27 531.38 1052.08 532.45 1059.20 533.00 C1066.32 533.55 1067.62 534.07 1072.00 533.60 C1076.38 533.13 1083.25 530.77 1085.50 530.20" fill="none" stroke="#000" stroke-width="2.05" stroke-linecap="round" stroke-linejoin="round"/>
<path d="M668.00 480.00 C668.17 476.33 668.62 466.33 669.00 458.00 C669.38 449.67 669.80 438.83 670.30 430.00 C670.80 421.17 671.38 412.50 672.00 405.00 C672.62 397.50 673.25 390.50 674.00 385.00 C674.75 379.50 675.58 375.50 676.50 372.00 C677.42 368.50 678.58 365.58 679.50 364.00 C680.42 362.42 681.17 362.42 682.00 362.50 C682.83 362.58 683.77 363.03 684.50 364.50 C685.23 365.97 685.53 367.05 686.40 371.30 C687.27 375.55 688.78 383.55 689.70 390.00 C690.62 396.45 690.98 404.28 691.90 410.00 C692.82 415.72 693.55 420.08 695.20 424.30 C696.85 428.52 699.42 432.47 701.80 435.30 C704.18 438.13 706.37 439.47 709.50 441.30 C712.63 443.13 716.00 444.55 720.60 446.30 C725.20 448.05 731.60 450.15 737.10 451.80 C742.60 453.45 748.10 454.73 753.60 456.20 C759.10 457.67 764.05 458.90 770.10 460.60 C776.15 462.30 781.62 463.78 789.90 466.40 C798.18 469.02 809.82 472.90 819.80 476.30 C829.78 479.70 839.82 483.32 849.80 486.80 C859.78 490.28 869.73 493.72 879.70 497.20 C889.67 500.68 899.63 504.45 909.60 507.70 C919.57 510.95 929.52 514.20 939.50 516.70 C949.48 519.20 959.52 520.95 969.50 522.70 C979.48 524.45 989.43 525.85 999.40 527.20 C1009.37 528.55 1019.33 529.80 1029.30 530.80 C1039.27 531.80 1052.08 532.73 1059.20 533.20 C1066.32 533.67 1067.62 534.10 1072.00 533.60 C1076.38 533.10 1083.25 530.77 1085.50 530.20" fill="none" stroke="#000" stroke-width="2.05" stroke-linecap="round" stroke-linejoin="round"/>
<path d="M667.90 489.00 C668.02 485.35 668.27 476.25 668.60 467.10 C668.93 457.95 669.50 443.27 669.90 434.10 C670.30 424.93 670.53 419.45 671.00 412.10 C671.47 404.75 672.05 397.35 672.70 390.00 C673.35 382.65 674.08 374.05 674.90 368.00 C675.72 361.95 676.50 356.90 677.60 353.70 C678.70 350.50 680.30 348.75 681.50 348.80 C682.70 348.85 683.80 350.80 684.80 354.00 C685.80 357.20 686.50 362.00 687.50 368.00 C688.50 374.00 689.88 383.00 690.80 390.00 C691.72 397.00 692.08 404.50 693.00 410.00 C693.92 415.50 694.83 418.98 696.30 423.00 C697.77 427.02 699.60 430.97 701.80 434.10 C704.00 437.23 706.37 439.23 709.50 441.80 C712.63 444.37 716.00 446.57 720.60 449.50 C725.20 452.43 731.60 456.10 737.10 459.40 C742.60 462.70 749.78 466.98 753.60 469.30 C757.42 471.62 756.43 471.13 760.00 473.30 C763.57 475.47 770.02 479.55 775.00 482.30 C779.98 485.05 784.92 487.55 789.90 489.80 C794.88 492.05 799.92 493.92 804.90 495.80 C809.88 497.68 814.82 499.72 819.80 501.10 C824.78 502.48 827.32 503.10 834.80 504.10 C842.28 505.10 854.73 506.00 864.70 507.10 C874.67 508.20 884.62 509.60 894.60 510.70 C904.58 511.80 914.62 512.45 924.60 513.70 C934.58 514.95 944.53 516.70 954.50 518.20 C964.47 519.70 974.43 521.35 984.40 522.70 C994.37 524.05 1004.32 525.20 1014.30 526.30 C1024.28 527.40 1035.82 528.65 1044.30 529.30 C1052.78 529.95 1059.92 530.17 1065.20 530.20 C1070.48 530.23 1072.62 529.95 1076.00 529.50 C1079.38 529.05 1083.92 527.83 1085.50 527.50" fill="none" stroke="#00e600" stroke-width="2.05" stroke-linecap="round" stroke-linejoin="round"/>
<path d="M667.50 494.00 C667.67 490.00 668.15 478.17 668.50 470.00 C668.85 461.83 669.15 452.50 669.60 445.00 C670.05 437.50 670.63 431.67 671.20 425.00 C671.77 418.33 672.28 411.17 673.00 405.00 C673.72 398.83 674.58 392.83 675.50 388.00 C676.42 383.17 677.42 378.97 678.50 376.00 C679.58 373.03 680.83 370.37 682.00 370.20 C683.17 370.03 684.50 372.37 685.50 375.00 C686.50 377.63 687.17 381.50 688.00 386.00 C688.83 390.50 689.75 397.00 690.50 402.00 C691.25 407.00 691.67 411.83 692.50 416.00 C693.33 420.17 693.95 423.58 695.50 427.00 C697.05 430.42 699.47 433.92 701.80 436.50 C704.13 439.08 706.37 440.75 709.50 442.50 C712.63 444.25 716.00 445.50 720.60 447.00 C725.20 448.50 730.53 449.62 737.10 451.50 C743.67 453.38 751.20 456.17 760.00 458.30 C768.80 460.43 779.93 462.05 789.90 464.30 C799.87 466.55 809.82 469.05 819.80 471.80 C829.78 474.55 839.82 477.55 849.80 480.80 C859.78 484.05 869.73 487.82 879.70 491.30 C889.67 494.78 899.63 498.22 909.60 501.70 C919.57 505.18 929.52 508.95 939.50 512.20 C949.48 515.45 959.52 518.70 969.50 521.20 C979.48 523.70 989.43 525.45 999.40 527.20 C1009.37 528.95 1019.33 530.37 1029.30 531.70 C1039.27 533.03 1052.22 534.62 1059.20 535.20 C1066.18 535.78 1066.82 535.90 1071.20 535.20 C1075.58 534.50 1083.12 531.70 1085.50 531.00" fill="none" stroke="#ee00ee" stroke-width="2.0" stroke-linecap="round" stroke-linejoin="round" stroke-dasharray="4.2 3.2 1.8 3.2"/>
<line x1="222.5" y1="719.7" x2="222.5" y2="981" stroke="#000" stroke-width="2.3" stroke-dasharray="6.2 6.1" stroke-dashoffset="-6"/>
<g fill="none" stroke="#000" stroke-width="1.85"><circle cx="102.80" cy="947.80" r="3.0"/><circle cx="118.80" cy="944.10" r="3.0"/><circle cx="132.70" cy="940.00" r="3.0"/><circle cx="144.80" cy="936.70" r="3.0"/><circle cx="155.40" cy="933.50" r="3.0"/><circle cx="165.30" cy="929.80" r="3.0"/><circle cx="173.40" cy="926.50" r="3.0"/><circle cx="181.10" cy="923.10" r="3.0"/><circle cx="187.90" cy="919.60" r="3.0"/><circle cx="194.40" cy="915.70" r="3.0"/><circle cx="200.90" cy="912.00" r="3.0"/><circle cx="206.90" cy="908.30" r="3.0"/><circle cx="212.50" cy="904.20" r="3.0"/><circle cx="217.70" cy="900.10" r="3.0"/><circle cx="222.90" cy="895.80" r="3.0"/><circle cx="227.50" cy="890.20" r="3.0"/><circle cx="232.50" cy="884.60" r="3.0"/><circle cx="237.80" cy="879.60" r="3.0"/><circle cx="243.40" cy="875.30" r="3.0"/><circle cx="249.70" cy="871.50" r="3.0"/><circle cx="256.30" cy="867.70" r="3.0"/><circle cx="263.20" cy="863.90" r="3.0"/><circle cx="270.00" cy="859.80" r="3.0"/><circle cx="277.10" cy="856.30" r="3.0"/><circle cx="284.70" cy="852.20" r="3.0"/><circle cx="292.40" cy="847.90" r="3.0"/><circle cx="300.70" cy="843.60" r="3.0"/><circle cx="308.30" cy="839.50" r="3.0"/><circle cx="316.50" cy="835.20" r="3.0"/><circle cx="324.80" cy="830.60" r="3.0"/><circle cx="333.10" cy="824.80" r="3.0"/><circle cx="341.60" cy="820.50" r="3.0"/><circle cx="350.00" cy="816.30" r="3.0"/><circle cx="358.50" cy="811.20" r="3.0"/><circle cx="367.80" cy="806.60" r="3.0"/><circle cx="377.00" cy="802.40" r="3.0"/><circle cx="385.20" cy="797.30" r="3.0"/><circle cx="393.70" cy="792.40" r="3.0"/><circle cx="402.10" cy="787.50" r="3.0"/><circle cx="410.10" cy="781.90" r="3.0"/><circle cx="418.20" cy="776.70" r="3.0"/><circle cx="425.90" cy="771.60" r="3.0"/><circle cx="433.30" cy="765.90" r="3.0"/><circle cx="440.70" cy="761.10" r="3.0"/><circle cx="447.90" cy="756.60" r="3.0"/><circle cx="454.80" cy="753.10" r="3.0"/><circle cx="461.50" cy="749.70" r="3.0"/><circle cx="467.90" cy="746.60" r="3.0"/><circle cx="474.40" cy="743.90" r="3.0"/><circle cx="480.70" cy="741.80" r="3.0"/></g>
<path d="M97.50 948.80 C101.05 948.10 110.92 946.57 118.80 944.60 C126.68 942.63 137.05 939.40 144.80 937.00 C152.55 934.60 158.12 933.00 165.30 930.20 C172.48 927.40 180.97 923.73 187.90 920.20 C194.83 916.67 201.93 912.20 206.90 909.00 C211.87 905.80 214.68 903.58 217.70 901.00 C220.72 898.42 222.53 896.08 225.00 893.50 C227.47 890.92 228.38 889.03 232.50 885.50 C236.62 881.97 242.27 877.03 249.70 872.30 C257.13 867.57 267.33 862.43 277.10 857.10 C286.87 851.77 299.48 845.17 308.30 840.30 C317.12 835.43 321.25 832.80 330.00 827.90 C338.75 823.00 350.52 816.95 360.80 810.90 C371.08 804.85 383.98 796.55 391.70 791.60 C399.42 786.65 401.97 783.77 407.10 781.20 C412.23 778.63 417.37 777.93 422.50 776.20 C427.63 774.47 432.77 772.47 437.90 770.80 C443.03 769.13 448.17 767.53 453.30 766.20 C458.43 764.87 463.30 763.88 468.70 762.80 C474.10 761.72 482.87 760.22 485.70 759.70" fill="none" stroke="#000" stroke-width="2.05" stroke-linecap="round" stroke-linejoin="round"/>
<path d="M97.50 948.80 C101.05 948.10 110.92 946.57 118.80 944.60 C126.68 942.63 137.05 939.40 144.80 937.00 C152.55 934.60 158.12 933.00 165.30 930.20 C172.48 927.40 180.97 923.73 187.90 920.20 C194.83 916.67 201.93 912.20 206.90 909.00 C211.87 905.80 214.68 903.58 217.70 901.00 C220.72 898.42 222.53 896.08 225.00 893.50 C227.47 890.92 228.38 889.03 232.50 885.50 C236.62 881.97 242.27 877.03 249.70 872.30 C257.13 867.57 267.33 862.43 277.10 857.10 C286.87 851.77 299.48 845.17 308.30 840.30 C317.12 835.43 321.25 832.80 330.00 827.90 C338.75 823.00 350.52 816.95 360.80 810.90 C371.08 804.85 383.98 796.62 391.70 791.60 C399.42 786.58 401.97 784.13 407.10 780.80 C412.23 777.47 417.37 774.28 422.50 771.60 C427.63 768.92 432.77 766.63 437.90 764.70 C443.03 762.77 448.17 761.35 453.30 760.00 C458.43 758.65 463.57 757.55 468.70 756.60 C473.83 755.65 481.53 754.68 484.10 754.30" fill="none" stroke="#000" stroke-width="2.05" stroke-linecap="round" stroke-linejoin="round"/>
<path d="M96.90 948.80 C99.68 948.18 107.72 946.50 113.60 945.10 C119.48 943.70 126.00 942.12 132.20 940.40 C138.40 938.68 144.62 936.75 150.80 934.80 C156.98 932.85 163.12 930.95 169.30 928.70 C175.48 926.45 181.70 924.00 187.90 921.30 C194.10 918.60 200.92 915.35 206.50 912.50 C212.08 909.65 217.68 906.52 221.40 904.20 C225.12 901.88 226.32 900.93 228.80 898.60 C231.28 896.27 233.53 892.93 236.30 890.20 C239.07 887.47 239.65 885.87 245.40 882.20 C251.15 878.53 262.33 872.87 270.80 868.20 C279.27 863.53 287.75 859.07 296.20 854.20 C304.65 849.33 313.30 844.28 321.50 839.00 C329.70 833.72 338.85 826.93 345.40 822.50 C351.95 818.07 355.67 815.62 360.80 812.40 C365.93 809.18 371.05 805.88 376.20 803.20 C381.35 800.52 386.55 798.35 391.70 796.30 C396.85 794.25 401.97 792.58 407.10 790.90 C412.23 789.22 417.37 787.75 422.50 786.20 C427.63 784.65 432.77 783.13 437.90 781.60 C443.03 780.07 448.17 778.42 453.30 777.00 C458.43 775.58 462.53 774.25 468.70 773.10 C474.87 771.95 486.70 770.60 490.30 770.10" fill="none" stroke="#00e600" stroke-width="2.05" stroke-linecap="round" stroke-linejoin="round"/>
<path d="M97.50 948.50 C101.05 947.77 110.92 946.12 118.80 944.10 C126.68 942.08 137.05 938.83 144.80 936.40 C152.55 933.97 158.12 932.33 165.30 929.50 C172.48 926.67 180.97 922.98 187.90 919.40 C194.83 915.82 201.93 911.27 206.90 908.00 C211.87 904.73 214.68 902.47 217.70 899.80 C220.72 897.13 222.53 894.57 225.00 892.00 C227.47 889.43 228.38 887.85 232.50 884.40 C236.62 880.95 242.27 876.02 249.70 871.30 C257.13 866.58 267.33 861.43 277.10 856.10 C286.87 850.77 299.48 843.88 308.30 839.30 C317.12 834.72 321.25 833.47 330.00 828.60 C338.75 823.73 350.52 816.38 360.80 810.10 C371.08 803.82 383.98 795.65 391.70 790.90 C399.42 786.15 401.97 784.95 407.10 781.60 C412.23 778.25 417.37 774.02 422.50 770.80 C427.63 767.58 432.77 764.60 437.90 762.30 C443.03 760.00 448.17 758.53 453.30 757.00 C458.43 755.47 463.57 754.27 468.70 753.10 C473.83 751.93 481.53 750.52 484.10 750.00" fill="none" stroke="#ee00ee" stroke-width="2.0" stroke-linecap="round" stroke-linejoin="round" stroke-dasharray="4.2 3.2 1.8 3.2"/>
<line x1="789.6" y1="718.5" x2="789.6" y2="981" stroke="#000" stroke-width="2.3" stroke-dasharray="6.2 6.1" stroke-dashoffset="-6"/>
<g fill="none" stroke="#000" stroke-width="1.85"><circle cx="670.00" cy="828.50" r="3.0"/><circle cx="685.90" cy="821.90" r="3.0"/><circle cx="699.90" cy="816.50" r="3.0"/><circle cx="711.50" cy="812.30" r="3.0"/><circle cx="722.20" cy="809.10" r="3.0"/><circle cx="731.40" cy="806.50" r="3.0"/><circle cx="740.20" cy="805.30" r="3.0"/><circle cx="747.80" cy="804.90" r="3.0"/><circle cx="754.90" cy="805.30" r="3.0"/><circle cx="761.70" cy="806.90" r="3.0"/><circle cx="767.70" cy="809.50" r="3.0"/><circle cx="773.30" cy="812.90" r="3.0"/><circle cx="778.70" cy="818.30" r="3.0"/><circle cx="783.70" cy="825.50" r="3.0"/><circle cx="788.60" cy="833.80" r="3.0"/><circle cx="793.20" cy="839.80" r="3.0"/><circle cx="798.60" cy="843.40" r="3.0"/><circle cx="804.60" cy="846.80" r="3.0"/><circle cx="810.60" cy="849.80" r="3.0"/><circle cx="817.00" cy="852.20" r="3.0"/><circle cx="823.10" cy="854.80" r="3.0"/><circle cx="829.50" cy="856.40" r="3.0"/><circle cx="836.50" cy="857.80" r="3.0"/><circle cx="843.50" cy="859.20" r="3.0"/><circle cx="851.10" cy="860.40" r="3.0"/><circle cx="858.80" cy="861.40" r="3.0"/><circle cx="866.50" cy="861.80" r="3.0"/><circle cx="874.70" cy="862.80" r="3.0"/><circle cx="882.80" cy="863.70" r="3.0"/><circle cx="891.00" cy="864.50" r="3.0"/><circle cx="899.50" cy="865.70" r="3.0"/><circle cx="908.10" cy="867.00" r="3.0"/><circle cx="916.60" cy="868.50" r="3.0"/><circle cx="924.90" cy="870.10" r="3.0"/><circle cx="933.40" cy="871.90" r="3.0"/><circle cx="941.90" cy="873.90" r="3.0"/><circle cx="950.20" cy="876.30" r="3.0"/><circle cx="958.70" cy="878.40" r="3.0"/><circle cx="967.20" cy="881.70" r="3.0"/><circle cx="975.40" cy="884.90" r="3.0"/><circle cx="983.50" cy="889.40" r="3.0"/><circle cx="991.40" cy="893.10" r="3.0"/><circle cx="999.00" cy="896.70" r="3.0"/><circle cx="1006.20" cy="901.00" r="3.0"/><circle cx="1013.40" cy="905.40" r="3.0"/><circle cx="1020.30" cy="910.10" r="3.0"/><circle cx="1026.80" cy="914.80" r="3.0"/><circle cx="1033.40" cy="919.50" r="3.0"/><circle cx="1039.50" cy="923.50" r="3.0"/><circle cx="1045.30" cy="926.40" r="3.0"/></g>
<path d="M664.40 825.50 C666.98 824.33 673.98 821.00 679.90 818.50 C685.82 816.00 693.25 812.83 699.90 810.50 C706.55 808.17 713.15 806.00 719.80 804.50 C726.45 803.00 734.15 801.83 739.80 801.50 C745.45 801.17 749.38 801.67 753.70 802.50 C758.02 803.33 762.03 804.67 765.70 806.50 C769.37 808.33 772.70 810.67 775.70 813.50 C778.70 816.33 781.38 820.08 783.70 823.50 C786.02 826.92 787.62 830.92 789.60 834.00 C791.58 837.08 793.27 839.42 795.60 842.00 C797.93 844.58 800.27 847.33 803.60 849.50 C806.93 851.67 811.28 853.25 815.60 855.00 C819.92 856.75 823.85 858.42 829.50 860.00 C835.15 861.58 844.42 863.00 849.50 864.50 C854.58 866.00 852.82 867.03 860.00 869.00 C867.18 870.97 883.08 873.87 892.60 876.30 C902.12 878.73 908.93 880.47 917.10 883.60 C925.27 886.73 933.43 891.42 941.60 895.10 C949.77 898.78 959.30 902.72 966.10 905.70 C972.90 908.68 976.97 910.97 982.40 913.00 C987.83 915.03 993.27 916.40 998.70 917.90 C1004.13 919.40 1009.78 920.32 1015.00 922.00 C1020.22 923.68 1024.17 926.48 1030.00 928.00 C1035.83 929.52 1046.67 930.58 1050.00 931.10" fill="none" stroke="#000" stroke-width="2.05" stroke-linecap="round" stroke-linejoin="round"/>
<path d="M664.40 825.50 C666.98 824.33 673.98 821.00 679.90 818.50 C685.82 816.00 693.25 812.83 699.90 810.50 C706.55 808.17 713.15 806.00 719.80 804.50 C726.45 803.00 734.15 801.83 739.80 801.50 C745.45 801.17 749.38 801.67 753.70 802.50 C758.02 803.33 762.03 804.67 765.70 806.50 C769.37 808.33 772.70 810.67 775.70 813.50 C778.70 816.33 781.38 820.08 783.70 823.50 C786.02 826.92 787.62 830.92 789.60 834.00 C791.58 837.08 793.27 839.42 795.60 842.00 C797.93 844.58 800.27 847.33 803.60 849.50 C806.93 851.67 811.28 853.25 815.60 855.00 C819.92 856.75 823.85 858.42 829.50 860.00 C835.15 861.58 844.42 863.15 849.50 864.50 C854.58 865.85 852.82 866.53 860.00 868.10 C867.18 869.67 881.72 871.58 892.60 873.90 C903.48 876.22 915.77 879.02 925.30 882.00 C934.83 884.98 941.65 887.98 949.80 891.80 C957.95 895.62 967.42 901.10 974.20 904.90 C980.98 908.70 985.05 912.08 990.50 914.60 C995.95 917.12 1001.45 918.08 1006.90 920.00 C1012.35 921.92 1018.02 924.35 1023.20 926.10 C1028.38 927.85 1033.53 929.67 1038.00 930.50 C1042.47 931.33 1048.00 931.00 1050.00 931.10" fill="none" stroke="#000" stroke-width="2.05" stroke-linecap="round" stroke-linejoin="round"/>
<path d="M664.40 825.50 C666.98 824.33 673.98 821.00 679.90 818.50 C685.82 816.00 693.25 812.83 699.90 810.50 C706.55 808.17 713.15 806.00 719.80 804.50 C726.45 803.00 734.15 801.83 739.80 801.50 C745.45 801.17 749.38 801.67 753.70 802.50 C758.02 803.33 762.03 804.67 765.70 806.50 C769.37 808.33 772.70 810.67 775.70 813.50 C778.70 816.33 781.38 820.08 783.70 823.50 C786.02 826.92 787.62 830.92 789.60 834.00 C791.58 837.08 793.27 839.42 795.60 842.00 C797.93 844.58 800.27 847.33 803.60 849.50 C806.93 851.67 811.28 853.25 815.60 855.00 C819.92 856.75 823.85 858.42 829.50 860.00 C835.15 861.58 844.42 863.28 849.50 864.50 C854.58 865.72 852.82 866.15 860.00 867.30 C867.18 868.45 881.72 869.63 892.60 871.40 C903.48 873.17 915.77 875.58 925.30 877.90 C934.83 880.22 941.65 882.17 949.80 885.30 C957.95 888.43 967.42 892.90 974.20 896.70 C980.98 900.50 985.05 904.57 990.50 908.10 C995.95 911.63 1001.45 914.90 1006.90 917.90 C1012.35 920.90 1018.02 924.00 1023.20 926.10 C1028.38 928.20 1033.53 929.67 1038.00 930.50 C1042.47 931.33 1048.00 931.00 1050.00 931.10" fill="none" stroke="#000" stroke-width="2.05" stroke-linecap="round" stroke-linejoin="round"/>
<path d="M664.40 822.90 C666.98 821.57 673.98 817.57 679.90 814.90 C685.82 812.23 693.25 809.23 699.90 806.90 C706.55 804.57 713.15 802.38 719.80 800.90 C726.45 799.42 734.15 798.40 739.80 798.00 C745.45 797.60 749.38 797.85 753.70 798.50 C758.02 799.15 762.03 800.33 765.70 801.90 C769.37 803.47 772.70 805.40 775.70 807.90 C778.70 810.40 781.38 813.73 783.70 816.90 C786.02 820.07 787.62 823.42 789.60 826.90 C791.58 830.38 793.27 834.32 795.60 837.80 C797.93 841.28 800.27 844.80 803.60 847.80 C806.93 850.80 811.28 853.47 815.60 855.80 C819.92 858.13 823.85 859.80 829.50 861.80 C835.15 863.80 844.42 866.23 849.50 867.80 C854.58 869.37 855.53 869.65 860.00 871.20 C864.47 872.75 870.87 875.17 876.30 877.10 C881.73 879.03 887.15 880.75 892.60 882.80 C898.05 884.85 903.55 887.08 909.00 889.40 C914.45 891.72 919.87 894.12 925.30 896.70 C930.73 899.28 936.17 902.45 941.60 904.90 C947.03 907.35 952.47 909.63 957.90 911.40 C963.33 913.17 968.77 914.43 974.20 915.50 C979.63 916.57 985.05 916.92 990.50 917.80 C995.95 918.68 1001.45 919.55 1006.90 920.80 C1012.35 922.05 1017.77 923.73 1023.20 925.30 C1028.63 926.87 1035.63 928.88 1039.50 930.20 C1043.37 931.52 1044.52 932.60 1046.40 933.20 C1048.28 933.80 1049.35 934.03 1050.80 933.80 C1052.25 933.57 1054.38 932.13 1055.10 931.80" fill="none" stroke="#00e600" stroke-width="2.05" stroke-linecap="round" stroke-linejoin="round"/>
<path d="M664.40 824.90 C666.98 823.73 673.98 820.40 679.90 817.90 C685.82 815.40 693.25 812.23 699.90 809.90 C706.55 807.57 713.15 805.40 719.80 803.90 C726.45 802.40 734.15 801.23 739.80 800.90 C745.45 800.57 749.38 801.07 753.70 801.90 C758.02 802.73 762.03 804.07 765.70 805.90 C769.37 807.73 772.70 810.07 775.70 812.90 C778.70 815.73 781.38 819.42 783.70 822.90 C786.02 826.38 787.62 830.65 789.60 833.80 C791.58 836.95 793.27 839.30 795.60 841.80 C797.93 844.30 800.27 846.80 803.60 848.80 C806.93 850.80 811.28 852.20 815.60 853.80 C819.92 855.40 823.85 856.90 829.50 858.40 C835.15 859.90 844.42 861.67 849.50 862.80 C854.58 863.93 852.82 864.03 860.00 865.20 C867.18 866.37 881.72 867.95 892.60 869.80 C903.48 871.65 915.77 874.00 925.30 876.30 C934.83 878.60 941.65 880.75 949.80 883.60 C957.95 886.45 967.42 890.13 974.20 893.40 C980.98 896.67 985.05 899.67 990.50 903.20 C995.95 906.73 1001.45 910.87 1006.90 914.60 C1012.35 918.33 1018.52 922.62 1023.20 925.60 C1027.88 928.58 1031.37 930.92 1035.00 932.50 C1038.63 934.08 1043.33 934.67 1045.00 935.10" fill="none" stroke="#ee00ee" stroke-width="2.0" stroke-linecap="round" stroke-linejoin="round" stroke-dasharray="4.2 3.2 1.8 3.2"/>
<line x1="203.7" y1="1114.5" x2="203.7" y2="1370" stroke="#000" stroke-width="2.3" stroke-dasharray="6.2 6.1" stroke-dashoffset="0"/>
<path d="M95.00 1336.20 C98.00 1335.45 106.68 1333.45 113.00 1331.70 C119.32 1329.95 126.27 1327.68 132.90 1325.70 C139.53 1323.72 146.15 1322.12 152.80 1319.80 C159.45 1317.48 166.82 1314.47 172.80 1311.80 C178.78 1309.13 184.05 1306.47 188.70 1303.80 C193.35 1301.13 197.37 1298.30 200.70 1295.80 C204.03 1293.30 206.03 1291.12 208.70 1288.80 C211.37 1286.48 213.15 1284.17 216.70 1281.90 C220.25 1279.63 224.15 1278.13 230.00 1275.20 C235.85 1272.27 244.55 1268.10 251.80 1264.30 C259.05 1260.50 266.25 1256.38 273.50 1252.40 C280.75 1248.42 288.05 1244.40 295.30 1240.40 C302.55 1236.40 309.75 1232.57 317.00 1228.40 C324.25 1224.23 331.55 1219.57 338.80 1215.40 C346.05 1211.23 353.25 1206.85 360.50 1203.40 C367.75 1199.95 375.03 1197.60 382.30 1194.70 C389.57 1191.80 396.85 1188.90 404.10 1186.00 C411.35 1183.10 418.55 1179.65 425.80 1177.30 C433.05 1174.95 441.07 1173.42 447.60 1171.90 C454.13 1170.38 462.10 1168.82 465.00 1168.20" fill="none" stroke="#000" stroke-width="2.05" stroke-linecap="round" stroke-linejoin="round"/>
<path d="M95.00 1335.00 C98.00 1334.25 106.68 1332.25 113.00 1330.50 C119.32 1328.75 126.27 1326.48 132.90 1324.50 C139.53 1322.52 146.15 1320.92 152.80 1318.60 C159.45 1316.28 166.82 1313.27 172.80 1310.60 C178.78 1307.93 184.05 1305.27 188.70 1302.60 C193.35 1299.93 197.37 1297.10 200.70 1294.60 C204.03 1292.10 206.03 1289.92 208.70 1287.60 C211.37 1285.28 213.15 1282.97 216.70 1280.70 C220.25 1278.43 224.15 1276.93 230.00 1274.00 C235.85 1271.07 244.55 1266.90 251.80 1263.10 C259.05 1259.30 266.25 1255.18 273.50 1251.20 C280.75 1247.22 288.05 1243.20 295.30 1239.20 C302.55 1235.20 309.75 1231.37 317.00 1227.20 C324.25 1223.03 331.55 1218.37 338.80 1214.20 C346.05 1210.03 353.25 1205.65 360.50 1202.20 C367.75 1198.75 375.03 1196.40 382.30 1193.50 C389.57 1190.60 396.85 1187.70 404.10 1184.80 C411.35 1181.90 418.55 1178.45 425.80 1176.10 C433.05 1173.75 441.07 1172.22 447.60 1170.70 C454.13 1169.18 462.10 1167.62 465.00 1167.00" fill="none" stroke="#000" stroke-width="2.05" stroke-linecap="round" stroke-linejoin="round"/>
<path d="M95.00 1333.00 C98.00 1332.25 103.37 1331.40 113.00 1328.50 C122.63 1325.60 141.18 1319.75 152.80 1315.60 C164.42 1311.45 174.72 1307.60 182.70 1303.60 C190.68 1299.60 195.70 1295.25 200.70 1291.60 C205.70 1287.95 209.05 1284.52 212.70 1281.70 C216.35 1278.88 219.72 1276.52 222.60 1274.70 C225.48 1272.88 225.13 1273.45 230.00 1270.80 C234.87 1268.15 244.55 1262.98 251.80 1258.80 C259.05 1254.62 266.25 1250.13 273.50 1245.70 C280.75 1241.27 288.05 1236.62 295.30 1232.20 C302.55 1227.78 309.75 1223.03 317.00 1219.20 C324.25 1215.37 331.55 1212.22 338.80 1209.20 C346.05 1206.18 353.25 1203.53 360.50 1201.10 C367.75 1198.67 375.03 1196.95 382.30 1194.60 C389.57 1192.25 396.85 1189.53 404.10 1187.00 C411.35 1184.47 418.55 1181.58 425.80 1179.40 C433.05 1177.22 441.07 1175.62 447.60 1173.90 C454.13 1172.18 462.10 1169.90 465.00 1169.10" fill="none" stroke="#00e600" stroke-width="2.05" stroke-linecap="round" stroke-linejoin="round"/>
<path d="M95.00 1337.00 C98.00 1336.17 106.68 1333.83 113.00 1332.00 C119.32 1330.17 126.27 1328.00 132.90 1326.00 C139.53 1324.00 146.15 1322.33 152.80 1320.00 C159.45 1317.67 166.82 1314.67 172.80 1312.00 C178.78 1309.33 184.05 1306.67 188.70 1304.00 C193.35 1301.33 197.37 1298.50 200.70 1296.00 C204.03 1293.50 206.03 1291.33 208.70 1289.00 C211.37 1286.67 213.15 1284.32 216.70 1282.00 C220.25 1279.68 224.15 1278.13 230.00 1275.10 C235.85 1272.07 244.55 1267.60 251.80 1263.80 C259.05 1260.00 266.25 1256.13 273.50 1252.30 C280.75 1248.47 288.05 1244.62 295.30 1240.80 C302.55 1236.98 309.75 1233.30 317.00 1229.40 C324.25 1225.50 331.55 1221.38 338.80 1217.40 C346.05 1213.42 353.25 1209.30 360.50 1205.50 C367.75 1201.70 375.03 1198.23 382.30 1194.60 C389.57 1190.97 396.85 1187.15 404.10 1183.70 C411.35 1180.25 418.55 1176.43 425.80 1173.90 C433.05 1171.37 441.07 1170.02 447.60 1168.50 C454.13 1166.98 462.10 1165.42 465.00 1164.80" fill="none" stroke="#ee00ee" stroke-width="2.0" stroke-linecap="round" stroke-linejoin="round" stroke-dasharray="4.2 3.2 1.8 3.2"/>
<line x1="772.7" y1="1108" x2="772.7" y2="1369" stroke="#000" stroke-width="2.3" stroke-dasharray="6.2 6.1" stroke-dashoffset="-2"/>
<path d="M664.20 1174.80 C666.82 1173.48 673.95 1169.55 679.90 1166.90 C685.85 1164.25 693.25 1160.90 699.90 1158.90 C706.55 1156.90 713.82 1155.40 719.80 1154.90 C725.78 1154.40 731.13 1154.90 735.80 1155.90 C740.47 1156.90 744.15 1158.73 747.80 1160.90 C751.45 1163.07 754.72 1165.75 757.70 1168.90 C760.68 1172.05 763.37 1175.98 765.70 1179.80 C768.03 1183.62 769.70 1187.97 771.70 1191.80 C773.70 1195.63 775.05 1199.48 777.70 1202.80 C780.35 1206.12 783.28 1208.72 787.60 1211.70 C791.92 1214.68 798.27 1218.20 803.60 1220.70 C808.93 1223.20 813.62 1225.03 819.60 1226.70 C825.58 1228.37 832.77 1229.05 839.50 1230.70 C846.23 1232.35 853.57 1234.62 860.00 1236.60 C866.43 1238.58 872.05 1240.23 878.10 1242.60 C884.15 1244.97 890.25 1247.62 896.30 1250.80 C902.35 1253.98 908.37 1258.38 914.40 1261.70 C920.43 1265.02 926.45 1267.53 932.50 1270.70 C938.55 1273.87 944.65 1277.52 950.70 1280.70 C956.75 1283.88 962.77 1287.38 968.80 1289.80 C974.83 1292.22 980.85 1293.23 986.90 1295.20 C992.95 1297.17 999.92 1299.47 1005.10 1301.60 C1010.28 1303.73 1014.38 1306.35 1018.00 1308.00 C1021.62 1309.65 1024.47 1311.50 1026.80 1311.50 C1029.13 1311.50 1031.13 1308.58 1032.00 1308.00" fill="none" stroke="#000" stroke-width="2.05" stroke-linecap="round" stroke-linejoin="round"/>
<path d="M664.20 1174.80 C666.82 1173.48 673.95 1169.55 679.90 1166.90 C685.85 1164.25 693.25 1160.90 699.90 1158.90 C706.55 1156.90 713.82 1155.40 719.80 1154.90 C725.78 1154.40 731.13 1154.90 735.80 1155.90 C740.47 1156.90 744.15 1158.73 747.80 1160.90 C751.45 1163.07 754.72 1165.75 757.70 1168.90 C760.68 1172.05 763.37 1175.98 765.70 1179.80 C768.03 1183.62 769.70 1187.97 771.70 1191.80 C773.70 1195.63 775.05 1199.48 777.70 1202.80 C780.35 1206.12 783.28 1208.72 787.60 1211.70 C791.92 1214.68 798.27 1218.20 803.60 1220.70 C808.93 1223.20 813.62 1225.03 819.60 1226.70 C825.58 1228.37 832.77 1229.15 839.50 1230.70 C846.23 1232.25 853.57 1234.32 860.00 1236.00 C866.43 1237.68 872.05 1238.93 878.10 1240.80 C884.15 1242.67 890.25 1244.93 896.30 1247.20 C902.35 1249.47 908.37 1251.83 914.40 1254.40 C920.43 1256.97 926.45 1259.57 932.50 1262.60 C938.55 1265.63 944.65 1268.98 950.70 1272.60 C956.75 1276.22 962.77 1280.83 968.80 1284.30 C974.83 1287.77 980.85 1290.52 986.90 1293.40 C992.95 1296.28 999.92 1299.17 1005.10 1301.60 C1010.28 1304.03 1014.38 1306.35 1018.00 1308.00 C1021.62 1309.65 1024.47 1311.50 1026.80 1311.50 C1029.13 1311.50 1031.13 1308.58 1032.00 1308.00" fill="none" stroke="#000" stroke-width="2.05" stroke-linecap="round" stroke-linejoin="round"/>
<path d="M664.20 1174.30 C666.82 1172.98 673.95 1169.05 679.90 1166.40 C685.85 1163.75 693.25 1160.40 699.90 1158.40 C706.55 1156.40 713.82 1154.90 719.80 1154.40 C725.78 1153.90 731.13 1154.40 735.80 1155.40 C740.47 1156.40 744.15 1158.23 747.80 1160.40 C751.45 1162.57 754.72 1165.25 757.70 1168.40 C760.68 1171.55 763.37 1175.48 765.70 1179.30 C768.03 1183.12 769.70 1187.47 771.70 1191.30 C773.70 1195.13 775.05 1198.98 777.70 1202.30 C780.35 1205.62 783.28 1208.22 787.60 1211.20 C791.92 1214.18 798.27 1217.70 803.60 1220.20 C808.93 1222.70 813.62 1224.53 819.60 1226.20 C825.58 1227.87 836.18 1229.53 839.50 1230.20" fill="none" stroke="#000" stroke-width="2.05" stroke-linecap="round" stroke-linejoin="round"/>
<path d="M664.20 1168.90 C666.82 1167.57 673.95 1163.57 679.90 1160.90 C685.85 1158.23 693.25 1154.90 699.90 1152.90 C706.55 1150.90 713.82 1149.47 719.80 1148.90 C725.78 1148.33 731.13 1148.67 735.80 1149.50 C740.47 1150.33 744.15 1151.67 747.80 1153.90 C751.45 1156.13 754.72 1159.42 757.70 1162.90 C760.68 1166.38 763.37 1170.65 765.70 1174.80 C768.03 1178.95 769.70 1183.63 771.70 1187.80 C773.70 1191.97 775.05 1196.15 777.70 1199.80 C780.35 1203.45 783.28 1206.38 787.60 1209.70 C791.92 1213.02 798.27 1217.03 803.60 1219.70 C808.93 1222.37 813.62 1223.87 819.60 1225.70 C825.58 1227.53 832.77 1229.08 839.50 1230.70 C846.23 1232.32 853.57 1234.02 860.00 1235.40 C866.43 1236.78 872.05 1237.65 878.10 1239.00 C884.15 1240.35 890.25 1241.98 896.30 1243.50 C902.35 1245.02 908.37 1246.13 914.40 1248.10 C920.43 1250.07 926.45 1252.58 932.50 1255.30 C938.55 1258.02 944.65 1260.92 950.70 1264.40 C956.75 1267.88 962.77 1272.27 968.80 1276.20 C974.83 1280.13 980.85 1283.92 986.90 1288.00 C992.95 1292.08 999.92 1297.37 1005.10 1300.70 C1010.28 1304.03 1014.38 1306.20 1018.00 1308.00 C1021.62 1309.80 1024.47 1311.50 1026.80 1311.50 C1029.13 1311.50 1031.13 1308.58 1032.00 1308.00" fill="none" stroke="#000" stroke-width="2.05" stroke-linecap="round" stroke-linejoin="round"/>
<path d="M664.20 1155.50 C666.82 1154.23 673.95 1150.50 679.90 1147.90 C685.85 1145.30 693.25 1141.88 699.90 1139.90 C706.55 1137.92 713.82 1136.38 719.80 1136.00 C725.78 1135.62 731.13 1136.45 735.80 1137.60 C740.47 1138.75 744.15 1140.35 747.80 1142.90 C751.45 1145.45 754.72 1148.73 757.70 1152.90 C760.68 1157.07 763.37 1162.75 765.70 1167.90 C768.03 1173.05 769.70 1178.82 771.70 1183.80 C773.70 1188.78 775.05 1193.80 777.70 1197.80 C780.35 1201.80 783.28 1204.48 787.60 1207.80 C791.92 1211.12 798.27 1215.05 803.60 1217.70 C808.93 1220.35 813.62 1221.53 819.60 1223.70 C825.58 1225.87 832.77 1228.45 839.50 1230.70 C846.23 1232.95 853.57 1234.60 860.00 1237.20 C866.43 1239.80 872.05 1243.13 878.10 1246.30 C884.15 1249.47 890.25 1252.58 896.30 1256.20 C902.35 1259.82 908.37 1264.37 914.40 1268.00 C920.43 1271.63 926.45 1275.28 932.50 1278.00 C938.55 1280.72 944.65 1282.63 950.70 1284.30 C956.75 1285.97 962.77 1286.63 968.80 1288.00 C974.83 1289.37 980.85 1290.53 986.90 1292.50 C992.95 1294.47 999.65 1297.38 1005.10 1299.80 C1010.55 1302.22 1015.98 1305.35 1019.60 1307.00 C1023.22 1308.65 1024.68 1309.70 1026.80 1309.70 C1028.92 1309.70 1031.38 1307.45 1032.30 1307.00" fill="none" stroke="#00e600" stroke-width="2.05" stroke-linecap="round" stroke-linejoin="round"/>
<path d="M664.20 1175.80 C666.82 1174.48 673.95 1170.55 679.90 1167.90 C685.85 1165.25 693.25 1161.90 699.90 1159.90 C706.55 1157.90 713.82 1156.40 719.80 1155.90 C725.78 1155.40 731.13 1155.90 735.80 1156.90 C740.47 1157.90 744.15 1159.73 747.80 1161.90 C751.45 1164.07 754.72 1166.75 757.70 1169.90 C760.68 1173.05 763.37 1176.98 765.70 1180.80 C768.03 1184.62 769.70 1188.97 771.70 1192.80 C773.70 1196.63 775.05 1200.48 777.70 1203.80 C780.35 1207.12 783.28 1209.72 787.60 1212.70 C791.92 1215.68 798.27 1219.20 803.60 1221.70 C808.93 1224.20 813.62 1226.03 819.60 1227.70 C825.58 1229.37 832.77 1230.72 839.50 1231.70 C846.23 1232.68 853.57 1232.68 860.00 1233.60 C866.43 1234.52 872.05 1236.00 878.10 1237.20 C884.15 1238.40 890.25 1239.43 896.30 1240.80 C902.35 1242.17 908.37 1243.73 914.40 1245.40 C920.43 1247.07 926.45 1248.38 932.50 1250.80 C938.55 1253.22 944.65 1256.42 950.70 1259.90 C956.75 1263.38 962.77 1267.63 968.80 1271.70 C974.83 1275.77 982.07 1280.68 986.90 1284.30 C991.73 1287.92 994.77 1290.67 997.80 1293.40 C1000.83 1296.13 1001.77 1298.13 1005.10 1300.70 C1008.43 1303.27 1014.18 1306.53 1017.80 1308.80 C1021.42 1311.07 1024.38 1314.00 1026.80 1314.30 C1029.22 1314.60 1031.38 1311.22 1032.30 1310.60" fill="none" stroke="#ee00ee" stroke-width="2.0" stroke-linecap="round" stroke-linejoin="round" stroke-dasharray="4.2 3.2 1.8 3.2"/>
<path d="M101.00 505.47h4.8M520.00 505.47h-4.8M101.00 418.33h4.8M520.00 418.33h-4.8M184.80 592.60v-4.8M184.80 331.20v4.8M268.60 592.60v-4.8M268.60 331.20v4.8M352.40 592.60v-4.8M352.40 331.20v4.8M436.20 592.60v-4.8M436.20 331.20v4.8" stroke="#262626" stroke-width="1.5" fill="none"/>
<rect x="101.00" y="331.20" width="419.00" height="261.40" fill="none" stroke="#262626" stroke-width="1.6"/>
<path d="M667.90 505.67h4.8M1086.50 505.67h-4.8M667.90 417.63h4.8M1086.50 417.63h-4.8M751.62 593.70v-4.8M751.62 329.60v4.8M835.34 593.70v-4.8M835.34 329.60v4.8M919.06 593.70v-4.8M919.06 329.60v4.8M1002.78 593.70v-4.8M1002.78 329.60v4.8" stroke="#262626" stroke-width="1.5" fill="none"/>
<rect x="667.90" y="329.60" width="418.60" height="264.10" fill="none" stroke="#262626" stroke-width="1.6"/>
<path d="M97.10 893.70h4.8M516.00 893.70h-4.8M97.10 806.20h4.8M516.00 806.20h-4.8M306.55 981.20v-4.8M306.55 718.70v4.8M160.15 981.20v-2.88M160.15 718.70v2.88M197.03 981.20v-2.88M197.03 718.70v2.88M223.20 981.20v-2.88M223.20 718.70v2.88M243.50 981.20v-2.88M243.50 718.70v2.88M260.08 981.20v-2.88M260.08 718.70v2.88M274.11 981.20v-2.88M274.11 718.70v2.88M286.25 981.20v-2.88M286.25 718.70v2.88M296.97 981.20v-2.88M296.97 718.70v2.88M369.60 981.20v-2.88M369.60 718.70v2.88M406.48 981.20v-2.88M406.48 718.70v2.88M432.65 981.20v-2.88M432.65 718.70v2.88M452.95 981.20v-2.88M452.95 718.70v2.88M469.53 981.20v-2.88M469.53 718.70v2.88M483.56 981.20v-2.88M483.56 718.70v2.88M495.70 981.20v-2.88M495.70 718.70v2.88M506.42 981.20v-2.88M506.42 718.70v2.88" stroke="#262626" stroke-width="1.5" fill="none"/>
<rect x="97.10" y="718.70" width="418.90" height="262.50" fill="none" stroke="#262626" stroke-width="1.6"/>
<path d="M664.40 915.65h4.8M1081.20 915.65h-4.8M664.40 849.60h4.8M1081.20 849.60h-4.8M664.40 783.55h4.8M1081.20 783.55h-4.8M872.80 981.70v-4.8M872.80 717.50v4.8M727.13 981.70v-2.88M727.13 717.50v2.88M763.83 981.70v-2.88M763.83 717.50v2.88M789.87 981.70v-2.88M789.87 717.50v2.88M810.07 981.70v-2.88M810.07 717.50v2.88M826.57 981.70v-2.88M826.57 717.50v2.88M840.52 981.70v-2.88M840.52 717.50v2.88M852.60 981.70v-2.88M852.60 717.50v2.88M863.26 981.70v-2.88M863.26 717.50v2.88M935.53 981.70v-2.88M935.53 717.50v2.88M972.23 981.70v-2.88M972.23 717.50v2.88M998.27 981.70v-2.88M998.27 717.50v2.88M1018.47 981.70v-2.88M1018.47 717.50v2.88M1034.97 981.70v-2.88M1034.97 717.50v2.88M1048.92 981.70v-2.88M1048.92 717.50v2.88M1061.00 981.70v-2.88M1061.00 717.50v2.88M1071.66 981.70v-2.88M1071.66 717.50v2.88" stroke="#262626" stroke-width="1.5" fill="none"/>
<rect x="664.40" y="717.50" width="416.80" height="264.20" fill="none" stroke="#262626" stroke-width="1.6"/>
<path d="M95.00 1304.45h4.8M514.00 1304.45h-4.8M95.00 1238.90h4.8M514.00 1238.90h-4.8M95.00 1173.35h4.8M514.00 1173.35h-4.8M304.50 1370.00v-4.8M304.50 1107.80v4.8M158.07 1370.00v-2.88M158.07 1107.80v2.88M194.96 1370.00v-2.88M194.96 1107.80v2.88M221.13 1370.00v-2.88M221.13 1107.80v2.88M241.43 1370.00v-2.88M241.43 1107.80v2.88M258.02 1370.00v-2.88M258.02 1107.80v2.88M272.05 1370.00v-2.88M272.05 1107.80v2.88M284.20 1370.00v-2.88M284.20 1107.80v2.88M294.91 1370.00v-2.88M294.91 1107.80v2.88M367.57 1370.00v-2.88M367.57 1107.80v2.88M404.46 1370.00v-2.88M404.46 1107.80v2.88M430.63 1370.00v-2.88M430.63 1107.80v2.88M450.93 1370.00v-2.88M450.93 1107.80v2.88M467.52 1370.00v-2.88M467.52 1107.80v2.88M481.55 1370.00v-2.88M481.55 1107.80v2.88M493.70 1370.00v-2.88M493.70 1107.80v2.88M504.41 1370.00v-2.88M504.41 1107.80v2.88" stroke="#262626" stroke-width="1.5" fill="none"/>
<rect x="95.00" y="1107.80" width="419.00" height="262.20" fill="none" stroke="#262626" stroke-width="1.6"/>
<path d="M664.20 1303.83h4.8M1081.20 1303.83h-4.8M664.20 1238.15h4.8M1081.20 1238.15h-4.8M664.20 1172.47h4.8M1081.20 1172.47h-4.8M872.70 1369.50v-4.8M872.70 1106.80v4.8M726.96 1369.50v-2.88M726.96 1106.80v2.88M763.68 1369.50v-2.88M763.68 1106.80v2.88M789.73 1369.50v-2.88M789.73 1106.80v2.88M809.94 1369.50v-2.88M809.94 1106.80v2.88M826.44 1369.50v-2.88M826.44 1106.80v2.88M840.40 1369.50v-2.88M840.40 1106.80v2.88M852.49 1369.50v-2.88M852.49 1106.80v2.88M863.16 1369.50v-2.88M863.16 1106.80v2.88M935.46 1369.50v-2.88M935.46 1106.80v2.88M972.18 1369.50v-2.88M972.18 1106.80v2.88M998.23 1369.50v-2.88M998.23 1106.80v2.88M1018.44 1369.50v-2.88M1018.44 1106.80v2.88M1034.94 1369.50v-2.88M1034.94 1106.80v2.88M1048.90 1369.50v-2.88M1048.90 1106.80v2.88M1060.99 1369.50v-2.88M1060.99 1106.80v2.88M1071.66 1369.50v-2.88M1071.66 1106.80v2.88" stroke="#262626" stroke-width="1.5" fill="none"/>
<rect x="664.20" y="1106.80" width="417.00" height="262.70" fill="none" stroke="#262626" stroke-width="1.6"/>
<g font-size="24.5">
<text transform="translate(89.40,336.30) scale(1,1.06)" text-anchor="end">1.5</text>
<text transform="translate(89.40,426.00) scale(1,1.06)" text-anchor="end">1.0</text>
<text transform="translate(89.40,515.70) scale(1,1.06)" text-anchor="end">0.5</text>
<text transform="translate(657.00,338.30) scale(1,1.06)" text-anchor="end">0.3</text>
<text transform="translate(657.00,426.90) scale(1,1.06)" text-anchor="end">0.2</text>
<text transform="translate(657.00,517.80) scale(1,1.06)" text-anchor="end">0.1</text>
<text transform="translate(86.80,725.30) scale(1,1.06)" text-anchor="end">15</text>
<text transform="translate(86.80,814.20) scale(1,1.06)" text-anchor="end">10</text>
<text transform="translate(86.80,902.00) scale(1,1.06)" text-anchor="end">5</text>
<text transform="translate(86.80,990.80) scale(1,1.06)" text-anchor="end">0</text>
<text transform="translate(655.60,724.30) scale(1,1.06)" text-anchor="end">4</text>
<text transform="translate(655.60,790.40) scale(1,1.06)" text-anchor="end">3</text>
<text transform="translate(655.60,857.60) scale(1,1.06)" text-anchor="end">2</text>
<text transform="translate(655.60,923.70) scale(1,1.06)" text-anchor="end">1</text>
<text transform="translate(655.60,989.80) scale(1,1.06)" text-anchor="end">0</text>
<text transform="translate(84.70,1113.30) scale(1,1.06)" text-anchor="end">20</text>
<text transform="translate(84.70,1179.40) scale(1,1.06)" text-anchor="end">15</text>
<text transform="translate(84.70,1246.50) scale(1,1.06)" text-anchor="end">10</text>
<text transform="translate(84.70,1312.60) scale(1,1.06)" text-anchor="end">5</text>
<text transform="translate(84.70,1379.80) scale(1,1.06)" text-anchor="end">0</text>
<text transform="translate(653.50,1113.30) scale(1,1.06)" text-anchor="end">4</text>
<text transform="translate(653.50,1179.40) scale(1,1.06)" text-anchor="end">3</text>
<text transform="translate(653.50,1246.50) scale(1,1.06)" text-anchor="end">2</text>
<text transform="translate(653.50,1313.70) scale(1,1.06)" text-anchor="end">1</text>
<text transform="translate(653.50,1379.80) scale(1,1.06)" text-anchor="end">0</text>
<text transform="translate(184.80,620.50) scale(1,1.06)" text-anchor="middle">0.2</text>
<text transform="translate(268.60,620.50) scale(1,1.06)" text-anchor="middle">0.4</text>
<text transform="translate(352.40,620.50) scale(1,1.06)" text-anchor="middle">0.6</text>
<text transform="translate(436.20,620.50) scale(1,1.06)" text-anchor="middle">0.8</text>
<text transform="translate(520.00,620.50) scale(1,1.06)" text-anchor="middle">1.0</text>
<text transform="translate(751.62,620.50) scale(1,1.06)" text-anchor="middle">0.2</text>
<text transform="translate(835.34,620.50) scale(1,1.06)" text-anchor="middle">0.4</text>
<text transform="translate(919.06,620.50) scale(1,1.06)" text-anchor="middle">0.6</text>
<text transform="translate(1002.78,620.50) scale(1,1.06)" text-anchor="middle">0.8</text>
<text transform="translate(1086.50,620.50) scale(1,1.06)" text-anchor="middle">1.0</text>
<text transform="translate(83.50,620.50) scale(1,1.06)" text-anchor="middle">0</text>
<text transform="translate(651.50,620.50) scale(1,1.06)" text-anchor="middle">0</text>
<text transform="translate(98.60,1018.60) scale(1,1.06)" text-anchor="middle">10<tspan dy="-10" font-size="17">1</tspan></text>
<text transform="translate(308.05,1018.60) scale(1,1.06)" text-anchor="middle">10<tspan dy="-10" font-size="17">2</tspan></text>
<text transform="translate(517.50,1018.60) scale(1,1.06)" text-anchor="middle">10<tspan dy="-10" font-size="17">3</tspan></text>
<text transform="translate(665.90,1018.60) scale(1,1.06)" text-anchor="middle">10<tspan dy="-10" font-size="17">1</tspan></text>
<text transform="translate(874.30,1018.60) scale(1,1.06)" text-anchor="middle">10<tspan dy="-10" font-size="17">2</tspan></text>
<text transform="translate(1082.70,1018.60) scale(1,1.06)" text-anchor="middle">10<tspan dy="-10" font-size="17">3</tspan></text>
<text transform="translate(96.50,1401.00) scale(1,1.06)" text-anchor="middle">10<tspan dy="-10" font-size="17">1</tspan></text>
<text transform="translate(306.00,1401.00) scale(1,1.06)" text-anchor="middle">10<tspan dy="-10" font-size="17">2</tspan></text>
<text transform="translate(515.50,1401.00) scale(1,1.06)" text-anchor="middle">10<tspan dy="-10" font-size="17">3</tspan></text>
<text transform="translate(665.70,1401.20) scale(1,1.06)" text-anchor="middle">10<tspan dy="-10" font-size="17">1</tspan></text>
<text transform="translate(874.20,1401.20) scale(1,1.06)" text-anchor="middle">10<tspan dy="-10" font-size="17">2</tspan></text>
<text transform="translate(1082.70,1401.20) scale(1,1.06)" text-anchor="middle">10<tspan dy="-10" font-size="17">3</tspan></text>
</g>
<text x="3.3" y="339.4" font-size="29.5">(<tspan font-style="italic">a</tspan>)</text>
<text x="575.2" y="339.4" font-size="29.5">(<tspan font-style="italic">b</tspan>)</text>
<text x="9.8" y="726" font-size="29.5">(<tspan font-style="italic">c</tspan>)</text>
<text x="579.9" y="726" font-size="29.5">(<tspan font-style="italic">d</tspan>)</text>
<text x="9.8" y="1118.5" font-size="29.5">(<tspan font-style="italic">e</tspan>)</text>
<text x="577.8" y="1118.5" font-size="29.5">(<tspan font-style="italic">f</tspan>)</text>
<text x="310.5" y="660.8" font-size="30.5" text-anchor="middle"><tspan font-style="italic">z</tspan><tspan font-size="37" dy="4" font-style="normal">/</tspan><tspan dy="-4" font-style="italic">h</tspan></text>
<text x="877.2" y="661.9" font-size="30.5" text-anchor="middle"><tspan font-style="italic">z</tspan><tspan font-size="37" dy="4" font-style="normal">/</tspan><tspan dy="-4" font-style="italic">h</tspan></text>
<text x="306.5" y="1061.5" font-size="30.5" text-anchor="middle"><tspan font-style="italic">z</tspan><tspan font-size="26" dy="-10" dx="0.5">+</tspan></text>
<text x="872.8" y="1061.5" font-size="30.5" text-anchor="middle"><tspan font-style="italic">z</tspan><tspan font-size="26" dy="-10" dx="0.5">+</tspan></text>
<text x="305.3" y="1437.5" font-size="30.5" text-anchor="middle"><tspan font-style="italic">zu</tspan><tspan font-size="21" font-style="italic" dy="5">τ</tspan><tspan font-size="15" font-style="italic" dy="4">o</tspan><tspan font-size="37" dy="-5">/</tspan><tspan dy="-4" font-style="italic">ν</tspan></text>
<text x="872.7" y="1437.5" font-size="30.5" text-anchor="middle"><tspan font-style="italic">zu</tspan><tspan font-size="21" font-style="italic" dy="5">τ</tspan><tspan font-size="15" font-style="italic" dy="4">o</tspan><tspan font-size="37" dy="-5">/</tspan><tspan dy="-4" font-style="italic">ν</tspan></text>
<text transform="translate(40.5,461.5) rotate(-90)" font-size="30.5" text-anchor="middle" stroke="#000" stroke-width="0.45"><tspan font-style="italic">U</tspan><tspan font-size="37" dy="4" font-style="normal">/</tspan><tspan dy="-4" font-style="italic">U</tspan><tspan font-size="21" font-style="italic" dy="5">b</tspan></text>
<text transform="translate(606.3,461.7) rotate(-90)" font-size="30.5" text-anchor="middle" stroke="#000" stroke-width="0.45"><tspan font-style="italic">u</tspan><tspan font-size="21" font-style="italic" dy="5">rms</tspan><tspan font-size="37" dy="-1" dx="1.5">/</tspan><tspan dy="-4" font-style="italic">U</tspan><tspan font-size="21" font-style="italic" dy="5">b</tspan></text>
<text x="16.2" y="863.3" font-size="30.5"><tspan font-style="italic">U</tspan><tspan font-size="26" dy="-9.5" stroke-width="0">+</tspan></text>
<g transform="translate(618.5,849.5) rotate(-90)" stroke="#000" stroke-width="0.45"><text x="-22.5" y="0" font-size="30.5" font-style="italic">u</text><text x="-9.5" y="-9" font-size="26" stroke-width="0">+</text><text x="-8" y="4.5" font-size="21" font-style="italic">rms</text></g>
<text transform="translate(38.5,1237) rotate(-90)" font-size="30.5" text-anchor="middle" stroke="#000" stroke-width="0.45"><tspan font-style="italic">U</tspan><tspan font-size="37" dy="4" font-style="normal">/</tspan><tspan dy="-4" font-style="italic">u</tspan><tspan font-size="21" font-style="italic" dy="5">τ</tspan><tspan font-size="15" font-style="italic" dy="4">o</tspan></text>
<text transform="translate(617.3,1238) rotate(-90)" font-size="30.5" text-anchor="middle" stroke="#000" stroke-width="0.45"><tspan font-style="italic">u</tspan><tspan font-size="21" font-style="italic" dy="5">rms</tspan><tspan font-size="37" dy="-1" dx="1.5">/</tspan><tspan dy="-4" font-style="italic">u</tspan><tspan font-size="21" font-style="italic" dy="5">τ</tspan><tspan font-size="15" font-style="italic" dy="4">o</tspan></text>
</svg></body></html>
